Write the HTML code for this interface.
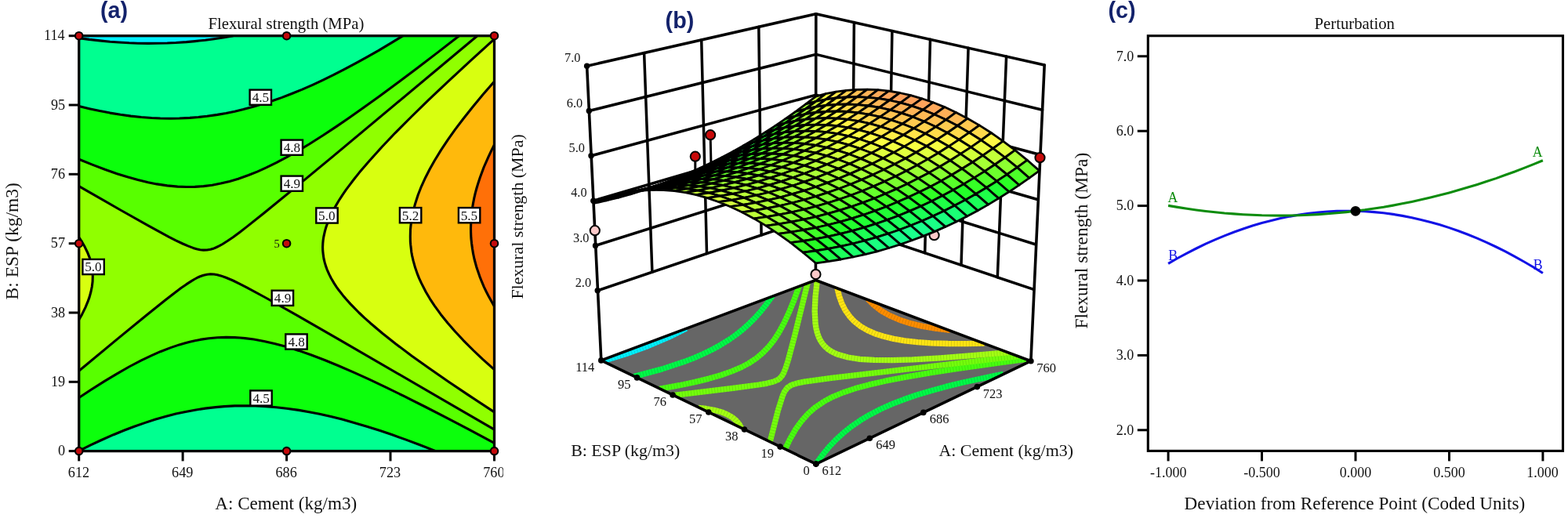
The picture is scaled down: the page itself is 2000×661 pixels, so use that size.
<!DOCTYPE html>
<html><head><meta charset="utf-8"><title>Flexural strength response surface</title>
<style>html,body{margin:0;padding:0;background:#fff}svg{display:block}text{white-space:pre}</style></head>
<body><svg width="2000" height="661" viewBox="0 0 2000 661">
<rect width="2000" height="661" fill="#fff"/>
<g id="plot-a">
<path d="M160.1,54.5 L178.0,55.2 L195.6,55.4 L213.3,55.0 L228.7,54.3 L246.4,52.9 L264.1,50.9 L281.7,48.4 L297.5,45.7 L100.7,45.7 L100.7,48.6 L116.2,50.7 L131.6,52.4 L144.8,53.5Z" fill="#00f0ff" stroke="#00f0ff" stroke-width="0.6"/>
<path d="M100.7,575.6 L102.9,575.6 L555.7,575.6 L535.6,567.7 L517.9,561.1 L484.8,549.6 L467.1,543.9 L451.7,539.4 L436.2,535.1 L423.0,531.8 L407.5,528.3 L394.3,525.7 L381.1,523.4 L365.6,521.2 L352.4,519.7 L339.1,518.6 L325.9,517.9 L312.6,517.7 L299.4,517.9 L286.1,518.6 L275.1,519.6 L261.8,521.1 L248.6,523.2 L235.4,525.7 L222.1,528.7 L208.9,532.1 L195.6,536.0 L182.4,540.3 L169.1,545.0 L155.9,550.1 L140.4,556.6 L125.0,563.5 L105.1,573.1 L100.7,575.3ZM180.0,149.5 L200.0,150.8 L219.9,151.2 L239.8,150.5 L257.4,149.1 L277.3,146.4 L295.0,143.2 L314.8,138.5 L334.7,132.8 L354.6,126.2 L374.4,118.6 L394.3,110.2 L416.4,100.0 L438.4,88.9 L462.7,75.9 L487.0,62.0 L514.0,45.7 L297.5,45.7 L272.9,49.7 L259.6,51.5 L246.4,52.9 L233.1,54.0 L219.9,54.7 L195.6,55.4 L173.5,55.1 L149.3,53.9 L125.0,51.7 L100.7,48.6 L100.7,135.6 L120.6,140.2 L140.4,144.1 L160.3,147.2Z" fill="#00ff90" stroke="#00ff90" stroke-width="0.6"/>
<path d="M100.7,573.4 L100.7,575.3 L116.2,567.7 L133.8,559.5 L151.5,551.9 L166.9,545.8 L189.0,538.1 L211.1,531.5 L224.3,528.1 L235.4,525.7 L246.4,523.6 L259.6,521.4 L270.7,520.0 L281.7,519.0 L295.0,518.1 L306.0,517.8 L319.2,517.8 L332.5,518.2 L345.7,519.1 L361.2,520.6 L374.4,522.4 L389.9,524.9 L405.3,527.9 L418.6,530.8 L434.0,534.6 L449.5,538.7 L464.9,543.3 L482.6,548.8 L500.3,554.8 L517.9,561.1 L535.6,567.7 L555.7,575.6 L630.5,575.6 L630.5,565.4 L593.0,545.4 L559.9,528.1 L529.0,512.3 L502.5,499.1 L476.0,486.4 L451.7,475.3 L429.6,465.8 L409.8,457.8 L389.9,450.4 L372.2,444.5 L356.8,440.1 L341.3,436.3 L325.9,433.4 L312.6,431.6 L299.4,430.6 L286.1,430.4 L275.1,430.9 L266.3,431.8 L257.4,433.1 L246.4,435.2 L237.6,437.4 L226.5,440.6 L215.5,444.4 L204.5,448.7 L193.4,453.6 L180.2,459.9 L169.1,465.6 L155.9,472.9 L144.8,479.4 L129.4,488.8 L100.7,507.5ZM222.3,237.8 L230.9,238.3 L239.8,238.5 L255.2,238.0 L264.1,237.1 L270.7,236.2 L279.5,234.6 L288.3,232.6 L303.8,228.2 L312.6,225.2 L321.4,221.8 L339.1,214.2 L359.0,204.3 L378.8,193.2 L400.9,179.9 L425.2,164.1 L451.7,146.0 L480.4,125.5 L511.3,102.6 L546.6,75.9 L585.6,45.7 L514.0,45.7 L480.4,65.9 L449.5,83.1 L420.8,97.9 L407.5,104.2 L392.1,111.2 L378.8,116.8 L365.6,122.1 L350.1,127.7 L336.9,132.1 L323.7,136.1 L310.4,139.6 L299.4,142.2 L286.1,144.9 L275.1,146.8 L264.1,148.3 L253.0,149.5 L242.0,150.4 L230.9,151.0 L219.9,151.2 L208.9,151.1 L197.8,150.7 L175.8,149.1 L164.7,147.8 L151.5,145.9 L127.2,141.6 L100.7,135.6 L100.7,203.3 L118.4,210.4 L136.0,217.1 L153.7,223.1 L166.9,227.1 L180.2,230.6 L195.6,234.1 L208.9,236.3Z" fill="#0cff0c" stroke="#0cff0c" stroke-width="0.6"/>
<path d="M629.0,564.6 L630.5,565.4 L630.5,548.2 L436.2,435.4 L378.8,402.4 L343.5,382.4 L314.8,366.8 L297.2,358.0 L286.1,353.4 L279.5,351.3 L275.1,350.4 L270.7,349.8 L266.3,349.9 L261.8,350.6 L257.4,351.9 L253.0,353.7 L248.6,356.0 L242.0,360.0 L235.4,364.4 L217.7,377.5 L191.2,398.6 L151.5,431.1 L100.7,473.2 L100.7,507.5 L120.6,494.5 L138.2,483.4 L153.7,474.2 L169.1,465.6 L184.6,457.7 L197.8,451.6 L211.1,446.1 L224.3,441.3 L237.6,437.4 L248.6,434.7 L261.8,432.4 L275.1,430.9 L288.3,430.4 L301.6,430.7 L314.8,431.8 L328.1,433.7 L339.1,435.8 L352.4,438.9 L365.6,442.5 L378.8,446.7 L392.1,451.2 L407.5,456.9 L425.2,464.0 L440.7,470.5 L476.0,486.4 L520.1,507.8 L568.7,532.6ZM249.4,317.3 L255.2,318.7 L261.8,319.1 L266.3,318.7 L268.5,318.2 L272.9,316.9 L279.5,313.9 L286.1,310.1 L295.0,304.2 L306.0,296.2 L319.2,285.9 L336.9,271.8 L387.7,230.2 L467.1,164.1 L608.8,45.7 L585.6,45.7 L533.4,86.0 L484.8,122.2 L464.9,136.6 L445.1,150.6 L429.6,161.1 L412.0,172.8 L394.3,184.0 L381.1,191.9 L365.6,200.7 L352.4,207.7 L339.1,214.2 L325.9,220.0 L312.6,225.2 L301.6,228.9 L290.5,232.0 L279.5,234.6 L268.5,236.5 L257.4,237.8 L246.4,238.4 L235.4,238.5 L224.3,238.0 L213.3,236.9 L200.0,234.9 L189.0,232.7 L175.8,229.5 L162.5,225.8 L149.3,221.7 L133.8,216.3 L118.4,210.4 L100.7,203.3 L100.7,237.6 L169.1,276.8 L208.9,298.8 L222.1,305.7 L233.1,311.0 L242.0,314.8Z" fill="#58ff00" stroke="#58ff00" stroke-width="0.6"/>
<path d="M628.3,546.9 L630.5,548.2 L630.5,525.9 L598.6,504.9 L565.9,482.9 L537.5,463.0 L513.4,445.3 L493.5,429.9 L474.8,414.4 L460.2,401.2 L447.0,387.9 L437.4,376.9 L430.6,368.1 L424.8,359.2 L420.0,350.4 L416.2,341.6 L413.6,332.7 L412.1,323.9 L411.6,315.1 L412.2,306.2 L412.9,301.8 L414.4,295.2 L415.6,290.8 L417.9,284.2 L422.7,273.1 L428.6,262.1 L436.8,248.8 L446.3,235.6 L456.6,222.3 L467.7,209.1 L479.5,195.8 L493.8,180.4 L508.8,164.9 L533.2,140.6 L560.7,114.1 L593.9,83.2 L630.5,49.8 L630.5,45.7 L608.8,45.7 L425.2,199.1 L374.4,241.1 L336.9,271.8 L314.8,289.4 L297.2,302.7 L290.5,307.3 L283.9,311.5 L279.5,313.9 L272.9,316.9 L268.5,318.2 L264.1,319.0 L259.6,319.1 L255.2,318.7 L250.8,317.7 L246.4,316.4 L239.8,313.9 L233.1,311.0 L215.5,302.3 L189.0,287.9 L153.7,268.0 L100.7,237.6 L100.7,302.8 L104.4,308.4 L108.2,315.1 L111.4,321.7 L114.1,328.3 L115.5,332.7 L117.0,339.4 L118.0,346.0 L118.3,352.6 L118.1,359.2 L117.3,365.8 L115.9,372.5 L114.1,379.1 L111.7,385.7 L108.9,392.3 L104.6,401.2 L100.7,408.1 L100.7,473.2 L151.5,431.1 L186.8,402.2 L211.1,382.7 L230.9,367.6 L244.2,358.6 L248.6,356.0 L255.2,352.8 L259.6,351.2 L264.1,350.2 L268.5,349.8 L272.9,350.0 L277.3,350.8 L281.7,351.9 L288.3,354.3 L297.2,358.0 L314.8,366.8 L339.1,380.0 L378.8,402.4 L431.8,432.8Z" fill="#90ff00" stroke="#90ff00" stroke-width="0.6"/>
<path d="M628.9,524.8 L630.5,525.9 L630.5,471.7 L615.9,458.6 L604.2,447.5 L591.0,434.3 L580.7,423.3 L571.1,412.2 L562.2,401.2 L554.2,390.1 L548.4,381.3 L543.2,372.5 L537.5,361.4 L532.7,350.4 L529.6,341.6 L527.1,332.7 L524.8,321.7 L523.8,312.9 L523.3,301.8 L523.5,293.0 L524.7,281.9 L526.7,270.9 L529.6,259.9 L533.2,248.8 L537.5,237.8 L542.6,226.7 L548.2,215.7 L554.4,204.7 L562.6,191.4 L571.4,178.2 L580.8,164.9 L590.8,151.7 L603.1,136.2 L615.9,120.8 L630.5,104.0 L630.5,49.8 L601.1,76.6 L572.5,103.1 L546.8,127.4 L524.2,149.5 L504.4,169.3 L487.6,187.0 L471.6,204.7 L458.4,220.1 L446.3,235.6 L436.8,248.8 L428.6,262.1 L422.7,273.1 L417.9,284.2 L415.6,290.8 L414.4,295.2 L412.9,301.8 L412.2,306.2 L411.6,315.1 L411.7,319.5 L412.4,326.1 L414.2,334.9 L417.1,343.8 L420.0,350.4 L422.2,354.8 L426.1,361.4 L429.0,365.8 L437.4,376.9 L447.0,387.9 L457.9,399.0 L469.8,410.0 L485.3,423.3 L501.9,436.5 L522.3,452.0 L543.7,467.4 L569.1,485.1 L598.6,504.9ZM100.7,407.8 L100.7,408.1 L104.6,401.2 L107.9,394.6 L110.8,387.9 L114.1,379.1 L115.9,372.5 L117.3,365.8 L118.1,359.2 L118.3,352.6 L118.0,346.0 L117.0,339.4 L115.5,332.7 L114.1,328.3 L111.4,321.7 L108.2,315.1 L104.4,308.4 L100.7,302.8Z" fill="#d8ff10" stroke="#d8ff10" stroke-width="0.6"/>
<path d="M628.1,469.6 L630.5,471.7 L630.5,391.0 L623.8,379.1 L617.2,365.8 L611.8,352.6 L608.0,341.6 L605.0,330.5 L602.5,317.3 L600.9,304.0 L600.5,290.8 L600.9,279.7 L602.3,266.5 L604.7,253.2 L608.0,240.0 L612.2,226.7 L617.1,213.5 L622.9,200.3 L630.5,184.7 L630.5,104.0 L617.8,118.6 L604.9,134.0 L592.5,149.5 L582.5,162.7 L572.9,176.0 L564.0,189.2 L555.7,202.5 L549.4,213.5 L543.6,224.5 L538.5,235.6 L534.0,246.6 L530.2,257.7 L527.2,268.7 L525.0,279.7 L523.7,290.8 L523.3,299.6 L523.6,310.7 L524.5,319.5 L526.1,328.3 L528.9,339.4 L531.9,348.2 L536.4,359.2 L540.8,368.1 L547.1,379.1 L554.2,390.1 L562.2,401.2 L571.1,412.2 L580.7,423.3 L591.0,434.3 L601.9,445.3 L613.5,456.4Z" fill="#ffb90c" stroke="#ffb90c" stroke-width="0.6"/>
<path d="M630.0,390.1 L630.5,391.0 L630.5,184.7 L622.9,200.3 L617.1,213.5 L612.2,226.7 L608.0,240.0 L604.7,253.2 L602.3,266.5 L600.9,279.7 L600.5,290.8 L600.9,304.0 L602.1,315.1 L604.5,328.3 L607.4,339.4 L611.8,352.6 L616.3,363.6 L622.6,376.9Z" fill="#ff7008" stroke="#ff7008" stroke-width="0.6"/>
<path d="M297.5,45.7 L286.1,47.7 L272.9,49.7 L261.8,51.2 L248.6,52.6 L237.6,53.6 L224.3,54.5 L213.3,55.0 L200.0,55.3 L189.0,55.4 L175.8,55.2 L164.7,54.8 L151.5,54.0 L140.4,53.2 L127.2,51.9 L113.9,50.4 L100.7,48.6" fill="none" stroke="#000" stroke-width="3.1" stroke-linejoin="round"/>
<path d="M100.7,575.3 L116.2,567.7 L129.4,561.5 L144.8,554.7 L158.1,549.3 L171.3,544.2 L184.6,539.6 L197.8,535.3 L211.1,531.5 L224.3,528.1 L235.4,525.7 L248.6,523.2 L261.8,521.1 L275.1,519.6 L286.1,518.6 L299.4,517.9 L312.6,517.7 L325.9,517.9 L339.1,518.6 L352.4,519.7 L365.6,521.2 L381.1,523.4 L394.3,525.7 L407.5,528.3 L423.0,531.8 L436.2,535.1 L451.7,539.4 L467.1,543.9 L484.8,549.6 L500.3,554.8 L517.9,561.1 L535.6,567.7 L555.7,575.6" fill="none" stroke="#000" stroke-width="3.1" stroke-linejoin="round"/>
<path d="M514.0,45.7 L498.0,55.4 L482.6,64.6 L467.1,73.4 L453.9,80.7 L438.4,88.9 L425.2,95.7 L412.0,102.1 L398.7,108.3 L385.5,114.1 L372.2,119.5 L359.0,124.6 L347.9,128.5 L334.7,132.8 L323.7,136.1 L310.4,139.6 L299.4,142.2 L288.3,144.5 L277.3,146.4 L264.1,148.3 L253.0,149.5 L242.0,150.4 L228.7,151.0 L217.7,151.2 L204.5,151.0 L193.4,150.5 L180.2,149.5 L166.9,148.1 L153.7,146.3 L140.4,144.1 L127.2,141.6 L113.9,138.7 L100.7,135.6" fill="none" stroke="#000" stroke-width="3.1" stroke-linejoin="round"/>
<path d="M100.7,507.5 L116.2,497.3 L133.8,486.1 L149.3,476.8 L164.7,468.0 L180.2,459.9 L193.4,453.6 L204.5,448.7 L217.7,443.6 L228.7,439.9 L235.4,438.0 L242.0,436.2 L248.6,434.7 L255.2,433.4 L266.3,431.8 L277.3,430.8 L288.3,430.4 L299.4,430.6 L306.0,431.0 L312.6,431.6 L323.7,433.0 L336.9,435.4 L350.1,438.4 L365.6,442.5 L381.1,447.4 L396.5,452.8 L414.2,459.5 L431.8,466.7 L451.7,475.3 L471.6,484.4 L493.6,494.8 L515.7,505.7 L542.2,519.0 L568.7,532.6 L597.4,547.7 L630.5,565.4" fill="none" stroke="#000" stroke-width="3.1" stroke-linejoin="round"/>
<path d="M585.6,45.7 L557.7,67.4 L533.4,86.0 L509.1,104.3 L484.8,122.2 L464.9,136.6 L445.1,150.6 L429.6,161.1 L412.0,172.8 L394.3,184.0 L381.1,191.9 L365.6,200.7 L352.4,207.7 L339.1,214.2 L328.1,219.1 L317.0,223.5 L303.8,228.2 L292.8,231.4 L281.7,234.1 L270.7,236.2 L259.6,237.6 L248.6,238.4 L237.6,238.5 L226.5,238.1 L213.3,236.9 L200.0,234.9 L189.0,232.7 L175.8,229.5 L162.5,225.8 L149.3,221.7 L133.8,216.3 L118.4,210.4 L100.7,203.3" fill="none" stroke="#000" stroke-width="3.1" stroke-linejoin="round"/>
<path d="M100.7,473.2 L151.5,431.1 L186.8,402.2 L211.1,382.7 L222.1,374.2 L230.9,367.6 L237.6,362.9 L244.2,358.6 L248.6,356.0 L253.0,353.7 L255.2,352.8 L259.6,351.2 L264.1,350.2 L268.5,349.8 L272.9,350.0 L277.3,350.8 L281.7,351.9 L288.3,354.3 L297.2,358.0 L306.0,362.3 L314.8,366.8 L339.1,380.0 L378.8,402.4 L431.8,432.8 L630.5,548.2" fill="none" stroke="#000" stroke-width="3.1" stroke-linejoin="round"/>
<path d="M608.8,45.7 L425.2,199.1 L374.4,241.1 L336.9,271.8 L314.8,289.4 L306.0,296.2 L297.2,302.7 L290.5,307.3 L283.9,311.5 L279.5,313.9 L275.1,316.0 L272.9,316.9 L268.5,318.2 L264.1,319.0 L259.6,319.1 L255.2,318.7 L250.8,317.7 L246.4,316.4 L239.8,313.9 L233.1,311.0 L224.3,306.8 L215.5,302.3 L189.0,287.9 L153.7,268.0 L100.7,237.6" fill="none" stroke="#000" stroke-width="3.1" stroke-linejoin="round"/>
<path d="M100.7,408.1 L104.6,401.2 L108.9,392.3 L111.7,385.7 L114.1,379.1 L115.9,372.5 L117.3,365.8 L118.1,359.2 L118.3,352.6 L118.0,346.0 L117.0,339.4 L115.5,332.7 L114.1,328.3 L111.4,321.7 L108.2,315.1 L104.4,308.4 L100.7,302.8" fill="none" stroke="#000" stroke-width="3.1" stroke-linejoin="round"/>
<path d="M630.5,49.8 L601.1,76.6 L572.5,103.1 L546.8,127.4 L524.2,149.5 L504.4,169.3 L487.6,187.0 L471.6,204.7 L458.4,220.1 L451.3,229.0 L446.3,235.6 L441.4,242.2 L436.8,248.8 L432.5,255.5 L428.6,262.1 L426.1,266.5 L422.7,273.1 L419.7,279.7 L417.9,284.2 L415.6,290.8 L414.4,295.2 L412.9,301.8 L412.2,306.2 L411.8,310.7 L411.6,315.1 L411.7,319.5 L412.4,326.1 L413.1,330.5 L414.2,334.9 L415.5,339.4 L417.1,343.8 L420.0,350.4 L422.2,354.8 L426.1,361.4 L429.0,365.8 L432.2,370.3 L437.4,376.9 L441.1,381.3 L447.0,387.9 L457.9,399.0 L464.9,405.6 L472.3,412.2 L488.0,425.5 L504.7,438.7 L525.3,454.2 L546.8,469.6 L572.3,487.3 L598.6,504.9 L630.5,525.9" fill="none" stroke="#000" stroke-width="3.1" stroke-linejoin="round"/>
<path d="M630.5,104.0 L615.9,120.8 L603.1,136.2 L590.8,151.7 L580.8,164.9 L571.4,178.2 L562.6,191.4 L554.4,204.7 L548.2,215.7 L542.6,226.7 L537.5,237.8 L533.2,248.8 L529.6,259.9 L526.7,270.9 L525.4,277.5 L524.7,281.9 L523.9,288.6 L523.5,293.0 L523.3,301.8 L523.4,308.4 L523.8,312.9 L524.8,321.7 L525.6,326.1 L527.1,332.7 L529.6,341.6 L532.7,350.4 L534.5,354.8 L537.5,361.4 L543.2,372.5 L548.4,381.3 L554.2,390.1 L562.2,401.2 L571.1,412.2 L580.7,423.3 L591.0,434.3 L604.2,447.5 L615.9,458.6 L630.5,471.7" fill="none" stroke="#000" stroke-width="3.1" stroke-linejoin="round"/>
<path d="M630.5,184.7 L627.1,191.4 L622.9,200.3 L617.1,213.5 L612.2,226.7 L610.0,233.4 L608.0,240.0 L606.2,246.6 L604.7,253.2 L603.4,259.9 L602.3,266.5 L601.5,273.1 L600.9,279.7 L600.5,290.8 L600.6,297.4 L600.9,304.0 L601.6,310.7 L602.5,317.3 L603.6,323.9 L605.0,330.5 L608.0,341.6 L611.8,352.6 L614.4,359.2 L617.2,365.8 L620.4,372.5 L623.8,379.1 L630.5,391.0" fill="none" stroke="#000" stroke-width="3.1" stroke-linejoin="round"/>
<rect x="100.7" y="45.7" width="529.8" height="529.9" fill="none" stroke="#000" stroke-width="3.3"/>
<line x1="100.7" y1="575.6" x2="100.7" y2="588.4" stroke="#000" stroke-width="3"/>
<text x="86.8" y="608.6" font-size="18.2" fill="#111" font-family="Liberation Serif, serif" >612</text>
<line x1="233.1" y1="575.6" x2="233.1" y2="588.4" stroke="#000" stroke-width="3"/>
<text x="219.1" y="608.6" font-size="18.2" fill="#111" font-family="Liberation Serif, serif" >649</text>
<line x1="365.6" y1="575.6" x2="365.6" y2="588.4" stroke="#000" stroke-width="3"/>
<text x="351.5" y="608.6" font-size="18.2" fill="#111" font-family="Liberation Serif, serif" >686</text>
<line x1="498.0" y1="575.6" x2="498.0" y2="588.4" stroke="#000" stroke-width="3"/>
<text x="483.8" y="608.6" font-size="18.2" fill="#111" font-family="Liberation Serif, serif" >723</text>
<line x1="630.5" y1="575.6" x2="630.5" y2="588.4" stroke="#000" stroke-width="3"/>
<text x="616.2" y="608.6" font-size="18.2" fill="#111" font-family="Liberation Serif, serif" >760</text>
<line x1="87.7" y1="575.6" x2="100.7" y2="575.6" stroke="#000" stroke-width="3"/>
<text x="74.1" y="581.3" font-size="18.2" fill="#111" font-family="Liberation Serif, serif" >0</text>
<line x1="87.7" y1="487.3" x2="100.7" y2="487.3" stroke="#000" stroke-width="3"/>
<text x="65.0" y="493.0" font-size="18.2" fill="#111" font-family="Liberation Serif, serif" >19</text>
<line x1="87.7" y1="399.0" x2="100.7" y2="399.0" stroke="#000" stroke-width="3"/>
<text x="65.0" y="404.7" font-size="18.2" fill="#111" font-family="Liberation Serif, serif" >38</text>
<line x1="87.7" y1="310.7" x2="100.7" y2="310.7" stroke="#000" stroke-width="3"/>
<text x="64.8" y="316.4" font-size="18.2" fill="#111" font-family="Liberation Serif, serif" >57</text>
<line x1="87.7" y1="222.3" x2="100.7" y2="222.3" stroke="#000" stroke-width="3"/>
<text x="64.8" y="228.0" font-size="18.2" fill="#111" font-family="Liberation Serif, serif" >76</text>
<line x1="87.7" y1="134.0" x2="100.7" y2="134.0" stroke="#000" stroke-width="3"/>
<text x="65.0" y="139.7" font-size="18.2" fill="#111" font-family="Liberation Serif, serif" >95</text>
<line x1="87.7" y1="45.7" x2="100.7" y2="45.7" stroke="#000" stroke-width="3"/>
<text x="56.1" y="51.4" font-size="18.2" fill="#111" font-family="Liberation Serif, serif" >114</text>
<circle cx="100.7" cy="575.6" r="4.75" fill="#c4090b" stroke="#000" stroke-width="2.1"/>
<circle cx="100.7" cy="310.7" r="4.75" fill="#c4090b" stroke="#000" stroke-width="2.1"/>
<circle cx="100.7" cy="45.7" r="4.75" fill="#c4090b" stroke="#000" stroke-width="2.1"/>
<circle cx="365.6" cy="575.6" r="4.75" fill="#c4090b" stroke="#000" stroke-width="2.1"/>
<circle cx="365.6" cy="310.7" r="4.75" fill="#c4090b" stroke="#000" stroke-width="2.1"/>
<circle cx="365.6" cy="45.7" r="4.75" fill="#c4090b" stroke="#000" stroke-width="2.1"/>
<circle cx="630.5" cy="575.6" r="4.75" fill="#c4090b" stroke="#000" stroke-width="2.1"/>
<circle cx="630.5" cy="310.7" r="4.75" fill="#c4090b" stroke="#000" stroke-width="2.1"/>
<circle cx="630.5" cy="45.7" r="4.75" fill="#c4090b" stroke="#000" stroke-width="2.1"/>
<text x="349.6" y="315.6" font-size="14.5" fill="#111" font-family="Liberation Serif, serif" >5</text>
<rect x="318.6" y="114.6" width="27.4" height="19.2" fill="#fff" stroke="#000" stroke-width="2.4"/>
<text x="321.7" y="130.0" font-size="17.2" fill="#111" font-family="Liberation Serif, serif" >4.5</text>
<rect x="358.6" y="178.6" width="27.4" height="19.2" fill="#fff" stroke="#000" stroke-width="2.4"/>
<text x="361.7" y="194.0" font-size="17.2" fill="#111" font-family="Liberation Serif, serif" >4.8</text>
<rect x="358.6" y="224.6" width="27.4" height="19.2" fill="#fff" stroke="#000" stroke-width="2.4"/>
<text x="361.7" y="240.0" font-size="17.2" fill="#111" font-family="Liberation Serif, serif" >4.9</text>
<rect x="403.3" y="265.4" width="27.4" height="19.2" fill="#fff" stroke="#000" stroke-width="2.4"/>
<text x="406.1" y="280.8" font-size="17.2" fill="#111" font-family="Liberation Serif, serif" >5.0</text>
<rect x="509.9" y="265.1" width="27.4" height="19.2" fill="#fff" stroke="#000" stroke-width="2.4"/>
<text x="512.8" y="280.5" font-size="17.2" fill="#111" font-family="Liberation Serif, serif" >5.2</text>
<rect x="584.9" y="265.1" width="27.4" height="19.2" fill="#fff" stroke="#000" stroke-width="2.4"/>
<text x="587.7" y="280.5" font-size="17.2" fill="#111" font-family="Liberation Serif, serif" >5.5</text>
<rect x="105.4" y="330.9" width="27.4" height="19.2" fill="#fff" stroke="#000" stroke-width="2.4"/>
<text x="108.2" y="346.3" font-size="17.2" fill="#111" font-family="Liberation Serif, serif" >5.0</text>
<rect x="346.7" y="370.7" width="27.4" height="19.2" fill="#fff" stroke="#000" stroke-width="2.4"/>
<text x="349.8" y="386.1" font-size="17.2" fill="#111" font-family="Liberation Serif, serif" >4.9</text>
<rect x="364.3" y="426.4" width="27.4" height="19.2" fill="#fff" stroke="#000" stroke-width="2.4"/>
<text x="367.4" y="441.8" font-size="17.2" fill="#111" font-family="Liberation Serif, serif" >4.8</text>
<rect x="319.3" y="498.4" width="27.4" height="19.2" fill="#fff" stroke="#000" stroke-width="2.4"/>
<text x="322.4" y="513.8" font-size="17.2" fill="#111" font-family="Liberation Serif, serif" >4.5</text>
<rect x="641.8" y="592" width="12" height="22" fill="#fff"/>
<text x="265.5" y="37.4" font-size="20.7" fill="#111" font-family="Liberation Serif, serif" >Flexural strength (MPa)</text>
<text x="274.3" y="649.6" font-size="23.1" fill="#111" font-family="Liberation Serif, serif" >A: Cement (kg/m3)</text>
<text x="23.3" y="382.4" font-size="23.5" fill="#111" font-family="Liberation Serif, serif" transform="rotate(-90 23.3 382.4)" >B: ESP (kg/m3)</text>
<text x="666.9" y="381.6" font-size="21.9" fill="#111" font-family="Liberation Serif, serif" transform="rotate(-90 666.9 381.6)" >Flexural strength (MPa)</text>
<text x="128.0" y="23.0" font-size="28.7" fill="#13226b" font-family="Liberation Sans, sans-serif" font-weight="bold" >(a)</text>
</g>
<g id="plot-b">
<path d="M748.6,84.2 L1040.8,17.7 L1332.2,83.0 L1314.9,460.7 L1040.4,357.5 L766.8,459.9Z" fill="#fff"/>
<line x1="748.6" y1="84.2" x2="1040.8" y2="17.7" stroke="#000" stroke-width="3.5" stroke-linecap="round" />
<line x1="1040.8" y1="17.7" x2="1332.2" y2="83.0" stroke="#000" stroke-width="3.5" stroke-linecap="round" />
<line x1="751.3" y1="141.5" x2="1040.8" y2="69.4" stroke="#000" stroke-width="3.5" stroke-linecap="round" />
<line x1="1040.8" y1="69.4" x2="1329.5" y2="140.3" stroke="#000" stroke-width="3.5" stroke-linecap="round" />
<line x1="754.0" y1="198.8" x2="1040.8" y2="121.1" stroke="#000" stroke-width="3.5" stroke-linecap="round" />
<line x1="1040.8" y1="121.1" x2="1326.8" y2="197.5" stroke="#000" stroke-width="3.5" stroke-linecap="round" />
<line x1="756.8" y1="256.2" x2="1040.8" y2="172.9" stroke="#000" stroke-width="3.5" stroke-linecap="round" />
<line x1="1040.8" y1="172.9" x2="1324.0" y2="254.8" stroke="#000" stroke-width="3.5" stroke-linecap="round" />
<line x1="759.5" y1="313.5" x2="1040.8" y2="224.6" stroke="#000" stroke-width="3.5" stroke-linecap="round" />
<line x1="1040.8" y1="224.6" x2="1321.3" y2="312.0" stroke="#000" stroke-width="3.5" stroke-linecap="round" />
<line x1="762.2" y1="370.8" x2="1040.8" y2="276.3" stroke="#000" stroke-width="3.5" stroke-linecap="round" />
<line x1="1040.8" y1="276.3" x2="1318.6" y2="369.3" stroke="#000" stroke-width="3.5" stroke-linecap="round" />
<line x1="821.6" y1="67.6" x2="831.9" y2="347.2" stroke="#000" stroke-width="3.5" stroke-linecap="round" />
<line x1="894.7" y1="51.0" x2="901.5" y2="323.6" stroke="#000" stroke-width="3.5" stroke-linecap="round" />
<line x1="967.8" y1="34.3" x2="971.1" y2="299.9" stroke="#000" stroke-width="3.5" stroke-linecap="round" />
<line x1="1089.4" y1="28.6" x2="1087.1" y2="291.8" stroke="#000" stroke-width="3.5" stroke-linecap="round" />
<line x1="1137.9" y1="39.5" x2="1133.4" y2="307.3" stroke="#000" stroke-width="3.5" stroke-linecap="round" />
<line x1="1186.5" y1="50.3" x2="1179.7" y2="322.8" stroke="#000" stroke-width="3.5" stroke-linecap="round" />
<line x1="1235.1" y1="61.2" x2="1226.0" y2="338.3" stroke="#000" stroke-width="3.5" stroke-linecap="round" />
<line x1="1283.6" y1="72.1" x2="1272.3" y2="353.8" stroke="#000" stroke-width="3.5" stroke-linecap="round" />
<line x1="748.6" y1="84.2" x2="766.8" y2="459.9" stroke="#000" stroke-width="3.6" stroke-linecap="round" />
<line x1="1040.8" y1="17.7" x2="1040.4" y2="357.5" stroke="#000" stroke-width="3.6" stroke-linecap="round" />
<line x1="1332.2" y1="83.0" x2="1314.9" y2="460.7" stroke="#000" stroke-width="3.6" stroke-linecap="round" />
<path d="M766.8,459.9 L1040.8,592.1 L1314.9,460.7 L1040.4,357.5Z" fill="#666666"/>
<clipPath id="floorclip"><path d="M766.8,459.9 L1040.8,592.1 L1314.9,460.7 L1040.4,357.5Z"/></clipPath>
<g clip-path="url(#floorclip)">
<path d="M875.6,419.0 L853.1,430.2 L827.2,441.2 L798.7,451.5 L767.9,461.1" fill="none" stroke="#00f0ff" stroke-width="7.3" stroke-linejoin="round"/>
<path d="M875.6,419.0 L853.1,430.2 L827.2,441.2 L798.7,451.5 L767.9,461.1" fill="none" stroke="#1c4a08" stroke-opacity="0.2" stroke-width="7.3" stroke-dasharray="0.8 3"/>
<path d="M1040.3,592.6 L1048.3,581.6 L1056.8,571.1 L1066.1,561.3 L1076.1,552.1 L1085.6,544.5 L1097.3,536.4 L1109.9,528.9 L1123.3,522.0 L1137.6,515.6 L1152.7,509.8 L1168.6,504.3 L1187.2,498.7 L1206.4,493.4 L1228.5,488.0 L1279.7,477.2" fill="none" stroke="#00f848" stroke-width="7.3" stroke-linejoin="round"/>
<path d="M1040.3,592.6 L1048.3,581.6 L1056.8,571.1 L1066.1,561.3 L1076.1,552.1 L1085.6,544.5 L1097.3,536.4 L1109.9,528.9 L1123.3,522.0 L1137.6,515.6 L1152.7,509.8 L1168.6,504.3 L1187.2,498.7 L1206.4,493.4 L1228.5,488.0 L1279.7,477.2" fill="none" stroke="#1c4a08" stroke-opacity="0.2" stroke-width="7.3" stroke-dasharray="0.8 3"/>
<path d="M985.4,377.3 L977.8,388.0 L970.8,396.8 L963.0,405.6 L955.4,413.2 L948.1,419.8 L938.9,427.1 L930.1,433.4 L919.0,440.2 L908.5,446.0 L897.2,451.5 L885.0,456.8 L872.0,461.8 L843.8,471.1 L808.3,480.6" fill="none" stroke="#00f848" stroke-width="7.3" stroke-linejoin="round"/>
<path d="M985.4,377.3 L977.8,388.0 L970.8,396.8 L963.0,405.6 L955.4,413.2 L948.1,419.8 L938.9,427.1 L930.1,433.4 L919.0,440.2 L908.5,446.0 L897.2,451.5 L885.0,456.8 L872.0,461.8 L843.8,471.1 L808.3,480.6" fill="none" stroke="#1c4a08" stroke-opacity="0.2" stroke-width="7.3" stroke-dasharray="0.8 3"/>
<path d="M1001.2,573.7 L1007.6,560.4 L1014.8,547.9 L1022.2,537.5 L1030.7,527.9 L1039.3,520.2 L1050.8,512.4 L1062.3,506.3 L1075.1,501.0 L1091.2,495.6 L1108.5,490.9 L1129.1,486.2 L1155.3,481.1 L1187.3,475.6 L1219.9,470.6 L1308.5,458.3" fill="none" stroke="#48ff10" stroke-width="7.3" stroke-linejoin="round"/>
<path d="M1001.2,573.7 L1007.6,560.4 L1014.8,547.9 L1022.2,537.5 L1030.7,527.9 L1039.3,520.2 L1050.8,512.4 L1062.3,506.3 L1075.1,501.0 L1091.2,495.6 L1108.5,490.9 L1129.1,486.2 L1155.3,481.1 L1187.3,475.6 L1219.9,470.6 L1308.5,458.3" fill="none" stroke="#1c4a08" stroke-opacity="0.2" stroke-width="7.3" stroke-dasharray="0.8 3"/>
<path d="M1019.5,364.4 L1012.8,383.0 L1006.5,398.3 L1000.4,411.6 L993.8,423.8 L987.4,433.7 L980.7,442.2 L972.8,450.4 L964.6,457.2 L955.0,463.6 L945.6,468.6 L933.2,473.9 L919.4,478.7 L904.4,483.1 L886.0,487.6 L866.5,491.7 L841.0,496.4" fill="none" stroke="#48ff10" stroke-width="7.3" stroke-linejoin="round"/>
<path d="M1019.5,364.4 L1012.8,383.0 L1006.5,398.3 L1000.4,411.6 L993.8,423.8 L987.4,433.7 L980.7,442.2 L972.8,450.4 L964.6,457.2 L955.0,463.6 L945.6,468.6 L933.2,473.9 L919.4,478.7 L904.4,483.1 L886.0,487.6 L866.5,491.7 L841.0,496.4" fill="none" stroke="#1c4a08" stroke-opacity="0.2" stroke-width="7.3" stroke-dasharray="0.8 3"/>
<path d="M982.0,564.4 L992.4,523.7 L998.3,504.9 L1000.7,499.6 L1004.3,494.8 L1008.4,491.9 L1012.0,490.4 L1018.6,488.6 L1025.9,487.2 L1060.4,482.3 L1298.6,454.5" fill="none" stroke="#74ff0c" stroke-width="7.3" stroke-linejoin="round"/>
<path d="M982.0,564.4 L992.4,523.7 L998.3,504.9 L1000.7,499.6 L1004.3,494.8 L1008.4,491.9 L1012.0,490.4 L1018.6,488.6 L1025.9,487.2 L1060.4,482.3 L1298.6,454.5" fill="none" stroke="#1c4a08" stroke-opacity="0.2" stroke-width="7.3" stroke-dasharray="0.8 3"/>
<path d="M1030.4,360.2 L1013.4,429.2 L1005.2,460.0 L1001.8,470.5 L999.7,475.7 L997.6,479.4 L994.8,482.7 L992.1,484.7 L986.8,487.0 L977.7,489.3 L967.5,491.0 L934.7,495.4 L857.9,504.6" fill="none" stroke="#74ff0c" stroke-width="7.3" stroke-linejoin="round"/>
<path d="M1030.4,360.2 L1013.4,429.2 L1005.2,460.0 L1001.8,470.5 L999.7,475.7 L997.6,479.4 L994.8,482.7 L992.1,484.7 L986.8,487.0 L977.7,489.3 L967.5,491.0 L934.7,495.4 L857.9,504.6" fill="none" stroke="#1c4a08" stroke-opacity="0.2" stroke-width="7.3" stroke-dasharray="0.8 3"/>
<path d="M946.2,547.2 L942.9,541.4 L938.9,536.6 L933.8,532.4 L927.5,528.8 L920.0,525.7 L911.0,523.3 L900.6,521.5 L890.8,520.4" fill="none" stroke="#a4ff14" stroke-width="7.3" stroke-linejoin="round"/>
<path d="M946.2,547.2 L942.9,541.4 L938.9,536.6 L933.8,532.4 L927.5,528.8 L920.0,525.7 L911.0,523.3 L900.6,521.5 L890.8,520.4" fill="none" stroke="#1c4a08" stroke-opacity="0.2" stroke-width="7.3" stroke-dasharray="0.8 3"/>
<path d="M1042.4,357.1 L1040.0,379.2 L1039.2,397.0 L1040.0,412.3 L1040.9,418.5 L1042.4,424.6 L1044.0,429.4 L1046.2,434.0 L1049.0,438.4 L1051.6,441.5 L1055.8,445.4 L1059.7,448.0 L1064.1,450.4 L1069.3,452.6 L1081.7,456.0 L1097.0,458.3 L1114.9,459.4 L1138.4,459.6 L1164.2,458.8 L1199.3,456.8 L1240.1,453.7 L1286.0,449.7" fill="none" stroke="#a4ff14" stroke-width="7.3" stroke-linejoin="round"/>
<path d="M1042.4,357.1 L1040.0,379.2 L1039.2,397.0 L1040.0,412.3 L1040.9,418.5 L1042.4,424.6 L1044.0,429.4 L1046.2,434.0 L1049.0,438.4 L1051.6,441.5 L1055.8,445.4 L1059.7,448.0 L1064.1,450.4 L1069.3,452.6 L1081.7,456.0 L1097.0,458.3 L1114.9,459.4 L1138.4,459.6 L1164.2,458.8 L1199.3,456.8 L1240.1,453.7 L1286.0,449.7" fill="none" stroke="#1c4a08" stroke-opacity="0.2" stroke-width="7.3" stroke-dasharray="0.8 3"/>
<path d="M1067.7,366.7 L1070.2,377.2 L1073.7,387.1 L1078.0,395.6 L1083.7,403.7 L1090.0,410.4 L1098.0,416.6 L1106.2,421.4 L1115.8,425.7 L1127.0,429.3 L1139.8,432.4 L1154.2,434.8 L1170.2,436.6 L1187.5,437.8 L1209.3,438.5 L1232.6,438.6 L1255.7,438.2" fill="none" stroke="#ffe414" stroke-width="7.3" stroke-linejoin="round"/>
<path d="M1067.7,366.7 L1070.2,377.2 L1073.7,387.1 L1078.0,395.6 L1083.7,403.7 L1090.0,410.4 L1098.0,416.6 L1106.2,421.4 L1115.8,425.7 L1127.0,429.3 L1139.8,432.4 L1154.2,434.8 L1170.2,436.6 L1187.5,437.8 L1209.3,438.5 L1232.6,438.6 L1255.7,438.2" fill="none" stroke="#1c4a08" stroke-opacity="0.2" stroke-width="7.3" stroke-dasharray="0.8 3"/>
<path d="M1106.6,381.5 L1114.9,389.7 L1123.9,396.5 L1134.6,402.7 L1147.4,408.2 L1162.2,412.9 L1176.9,416.4 L1193.2,419.2 L1211.9,421.5" fill="none" stroke="#ff8c00" stroke-width="7.3" stroke-linejoin="round"/>
<path d="M1106.6,381.5 L1114.9,389.7 L1123.9,396.5 L1134.6,402.7 L1147.4,408.2 L1162.2,412.9 L1176.9,416.4 L1193.2,419.2 L1211.9,421.5" fill="none" stroke="#1c4a08" stroke-opacity="0.2" stroke-width="7.3" stroke-dasharray="0.8 3"/>
</g>
<path d="M766.8,459.9 L1040.8,592.1 L1314.9,460.7 L1040.4,357.5Z" fill="none" stroke="#000" stroke-width="3.6" stroke-linejoin="round"/>
<line x1="906.1" y1="172.2" x2="906.9" y2="207.8" stroke="#000" stroke-width="3" stroke-linecap="round" />
<circle cx="906.1" cy="172.2" r="6.1" fill="#c80a0a" stroke="#000" stroke-width="2"/>
<line x1="1191.6" y1="300.2" x2="1191.8" y2="295.6" stroke="#000" stroke-width="3" stroke-linecap="round" />
<circle cx="1191.6" cy="300.2" r="6.1" fill="#fcc8c8" stroke="#000" stroke-width="2"/>
<line x1="1040.5" y1="350.1" x2="1040.5" y2="335.8" stroke="#000" stroke-width="3" stroke-linecap="round" />
<circle cx="1040.5" cy="350.1" r="6.1" fill="#fcc8c8" stroke="#000" stroke-width="2"/>
<g stroke="#000" stroke-width="2.8" stroke-linejoin="round">
<path d="M1040.5,129.5 L1053.3,119.7 L1040.5,123.1 L1027.7,132.9Z" fill="#ceff3b"/>
<path d="M1027.6,139.0 L1040.5,129.5 L1027.7,132.9 L1014.8,142.5Z" fill="#a0ff34"/>
<path d="M1053.4,126.9 L1066.3,117.1 L1053.3,119.7 L1040.5,129.5Z" fill="#f7ff42"/>
<path d="M1014.5,148.2 L1027.6,139.0 L1014.8,142.5 L1001.8,151.7Z" fill="#72ff2e"/>
<path d="M1066.5,125.0 L1079.4,115.3 L1066.3,117.1 L1053.4,126.9Z" fill="#ffe548"/>
<path d="M1040.5,136.3 L1053.4,126.9 L1040.5,129.5 L1027.6,139.0Z" fill="#d2ff3b"/>
<path d="M1001.3,157.1 L1014.5,148.2 L1001.8,151.7 L988.7,160.7Z" fill="#45ff28"/>
<path d="M1079.8,124.0 L1092.7,114.3 L1079.4,115.3 L1066.5,125.0Z" fill="#ffcf4e"/>
<path d="M1027.4,145.5 L1040.5,136.3 L1027.6,139.0 L1014.5,148.2Z" fill="#a8ff35"/>
<path d="M1053.6,134.4 L1066.5,125.0 L1053.4,126.9 L1040.5,136.3Z" fill="#f7ff42"/>
<path d="M988.0,165.7 L1001.3,157.1 L988.7,160.7 L975.4,169.3Z" fill="#23ff2c"/>
<path d="M1093.3,123.7 L1106.2,114.1 L1092.7,114.3 L1079.8,124.0Z" fill="#ffbf52"/>
<path d="M1014.2,154.3 L1027.4,145.5 L1014.5,148.2 L1001.3,157.1Z" fill="#7fff30"/>
<path d="M1066.8,133.3 L1079.8,124.0 L1066.5,125.0 L1053.6,134.4Z" fill="#ffea47"/>
<path d="M1040.5,143.5 L1053.6,134.4 L1040.5,136.3 L1027.4,145.5Z" fill="#d5ff3c"/>
<path d="M974.6,174.0 L988.0,165.7 L975.4,169.3 L962.0,177.7Z" fill="#1eff4a"/>
<path d="M1106.9,124.3 L1119.8,114.7 L1106.2,114.1 L1093.3,123.7Z" fill="#ffb356"/>
<path d="M1000.9,162.9 L1014.2,154.3 L1001.3,157.1 L988.0,165.7Z" fill="#57ff2a"/>
<path d="M1080.3,133.0 L1093.3,123.7 L1079.8,124.0 L1066.8,133.3Z" fill="#ffd44c"/>
<path d="M1027.3,152.3 L1040.5,143.5 L1027.4,145.5 L1014.2,154.3Z" fill="#afff36"/>
<path d="M1053.7,142.4 L1066.8,133.3 L1053.6,134.4 L1040.5,143.5Z" fill="#f5ff42"/>
<path d="M961.0,181.9 L974.6,174.0 L962.0,177.7 L948.4,185.7Z" fill="#1aff65"/>
<path d="M1120.7,125.7 L1133.6,116.2 L1119.8,114.7 L1106.9,124.3Z" fill="#ffaa59"/>
<path d="M987.4,171.1 L1000.9,162.9 L988.0,165.7 L974.6,174.0Z" fill="#31ff25"/>
<path d="M1093.9,133.6 L1106.9,124.3 L1093.3,123.7 L1080.3,133.0Z" fill="#ffc750"/>
<path d="M1013.9,160.8 L1027.3,152.3 L1014.2,154.3 L1000.9,162.9Z" fill="#8aff31"/>
<path d="M1067.1,142.0 L1080.3,133.0 L1066.8,133.3 L1053.7,142.4Z" fill="#ffef46"/>
<path d="M1040.5,151.1 L1053.7,142.4 L1040.5,143.5 L1027.3,152.3Z" fill="#d6ff3c"/>
<path d="M947.3,189.6 L961.0,181.9 L948.4,185.7 L934.7,193.4Z" fill="#1aff80"/>
<path d="M1134.6,128.0 L1147.5,118.5 L1133.6,116.2 L1120.7,125.7Z" fill="#ffa45b"/>
<path d="M973.8,179.0 L987.4,171.1 L974.6,174.0 L961.0,181.9Z" fill="#21ff36"/>
<path d="M1107.6,135.0 L1120.7,125.7 L1106.9,124.3 L1093.9,133.6Z" fill="#ffbd53"/>
<path d="M1000.4,168.9 L1013.9,160.8 L1000.9,162.9 L987.4,171.1Z" fill="#67ff2c"/>
<path d="M1080.7,142.5 L1093.9,133.6 L1080.3,133.0 L1067.1,142.0Z" fill="#ffdb4a"/>
<path d="M1027.1,159.5 L1040.5,151.1 L1027.3,152.3 L1013.9,160.8Z" fill="#b4ff37"/>
<path d="M1053.9,150.7 L1067.1,142.0 L1053.7,142.4 L1040.5,151.1Z" fill="#f2ff41"/>
<path d="M933.4,196.9 L947.3,189.6 L934.7,193.4 L920.9,200.8Z" fill="#1aff98"/>
<path d="M1148.7,131.2 L1161.6,121.7 L1147.5,118.5 L1134.6,128.0Z" fill="#ffa15c"/>
<path d="M960.1,186.5 L973.8,179.0 L961.0,181.9 L947.3,189.6Z" fill="#1dff4e"/>
<path d="M1121.6,137.2 L1134.6,128.0 L1120.7,125.7 L1107.6,135.0Z" fill="#ffb755"/>
<path d="M986.8,176.8 L1000.4,168.9 L987.4,171.1 L973.8,179.0Z" fill="#45ff28"/>
<path d="M1094.5,143.9 L1107.6,135.0 L1093.9,133.6 L1080.7,142.5Z" fill="#ffd04d"/>
<path d="M1013.6,167.6 L1027.1,159.5 L1013.9,160.8 L1000.4,168.9Z" fill="#93ff32"/>
<path d="M1067.4,151.2 L1080.7,142.5 L1067.1,142.0 L1053.9,150.7Z" fill="#fff645"/>
<path d="M1040.5,159.1 L1053.9,150.7 L1040.5,151.1 L1027.1,159.5Z" fill="#d6ff3c"/>
<path d="M919.4,203.9 L933.4,196.9 L920.9,200.8 L906.9,207.8Z" fill="#1affad"/>
<path d="M1162.9,135.2 L1175.9,125.8 L1161.6,121.7 L1148.7,131.2Z" fill="#ffa15c"/>
<path d="M946.1,193.7 L960.1,186.5 L947.3,189.6 L933.4,196.9Z" fill="#1aff62"/>
<path d="M1135.6,140.3 L1148.7,131.2 L1134.6,128.0 L1121.6,137.2Z" fill="#ffb356"/>
<path d="M973.0,184.3 L986.8,176.8 L973.8,179.0 L960.1,186.5Z" fill="#26ff24"/>
<path d="M1108.4,146.1 L1121.6,137.2 L1107.6,135.0 L1094.5,143.9Z" fill="#ffc94f"/>
<path d="M999.9,175.4 L1013.6,167.6 L1000.4,168.9 L986.8,176.8Z" fill="#75ff2e"/>
<path d="M1081.2,152.4 L1094.5,143.9 L1080.7,142.5 L1067.4,151.2Z" fill="#ffe648"/>
<path d="M1026.9,167.1 L1040.5,159.1 L1027.1,159.5 L1013.6,167.6Z" fill="#b8ff38"/>
<path d="M1054.0,159.5 L1067.4,151.2 L1053.9,150.7 L1040.5,159.1Z" fill="#eeff40"/>
<path d="M905.2,210.5 L919.4,203.9 L906.9,207.8 L892.7,214.6Z" fill="#1affbf"/>
<path d="M1177.3,140.1 L1190.2,130.7 L1175.9,125.8 L1162.9,135.2Z" fill="#ffa35b"/>
<path d="M932.1,200.7 L946.1,193.7 L933.4,196.9 L919.4,203.9Z" fill="#1aff77"/>
<path d="M1149.9,144.3 L1162.9,135.2 L1148.7,131.2 L1135.6,140.3Z" fill="#ffb256"/>
<path d="M959.1,191.4 L973.0,184.3 L960.1,186.5 L946.1,193.7Z" fill="#21ff38"/>
<path d="M1122.5,149.1 L1135.6,140.3 L1121.6,137.2 L1108.4,146.1Z" fill="#ffc451"/>
<path d="M986.1,182.8 L999.9,175.4 L986.8,176.8 L973.0,184.3Z" fill="#58ff2a"/>
<path d="M1095.1,154.6 L1108.4,146.1 L1094.5,143.9 L1081.2,152.4Z" fill="#ffdb4a"/>
<path d="M1013.3,174.8 L1026.9,167.1 L1013.6,167.6 L999.9,175.4Z" fill="#9bff33"/>
<path d="M1067.8,160.7 L1081.2,152.4 L1067.4,151.2 L1054.0,159.5Z" fill="#ffff43"/>
<path d="M1040.5,167.4 L1054.0,159.5 L1040.5,159.1 L1026.9,167.1Z" fill="#d4ff3c"/>
<path d="M890.8,216.8 L905.2,210.5 L892.7,214.6 L878.4,220.9Z" fill="#1affcf"/>
<path d="M1191.8,146.0 L1204.8,136.6 L1190.2,130.7 L1177.3,140.1Z" fill="#ffa85a"/>
<path d="M917.9,207.2 L932.1,200.7 L919.4,203.9 L905.2,210.5Z" fill="#1aff88"/>
<path d="M1164.3,149.2 L1177.3,140.1 L1162.9,135.2 L1149.9,144.3Z" fill="#ffb456"/>
<path d="M945.0,198.2 L959.1,191.4 L946.1,193.7 L932.1,200.7Z" fill="#1eff4a"/>
<path d="M1136.7,153.1 L1149.9,144.3 L1135.6,140.3 L1122.5,149.1Z" fill="#ffc351"/>
<path d="M972.2,189.9 L986.1,182.8 L973.0,184.3 L959.1,191.4Z" fill="#3eff27"/>
<path d="M1109.2,157.6 L1122.5,149.1 L1108.4,146.1 L1095.1,154.6Z" fill="#ffd54c"/>
<path d="M999.4,182.2 L1013.3,174.8 L999.9,175.4 L986.1,182.8Z" fill="#81ff30"/>
<path d="M1081.7,162.8 L1095.1,154.6 L1081.2,152.4 L1067.8,160.7Z" fill="#fff246"/>
<path d="M1026.8,175.1 L1040.5,167.4 L1026.9,167.1 L1013.3,174.8Z" fill="#baff38"/>
<path d="M1054.2,168.6 L1067.8,160.7 L1054.0,159.5 L1040.5,167.4Z" fill="#e8ff3f"/>
<path d="M876.3,222.8 L890.8,216.8 L878.4,220.9 L863.9,227.0Z" fill="#1affdc"/>
<path d="M1206.5,152.8 L1219.4,143.4 L1204.8,136.6 L1191.8,146.0Z" fill="#ffaf57"/>
<path d="M903.5,213.4 L917.9,207.2 L905.2,210.5 L890.8,216.8Z" fill="#1aff97"/>
<path d="M1178.8,155.1 L1191.8,146.0 L1177.3,140.1 L1164.3,149.2Z" fill="#ffb954"/>
<path d="M930.7,204.7 L945.0,198.2 L932.1,200.7 L917.9,207.2Z" fill="#1bff59"/>
<path d="M1151.1,158.0 L1164.3,149.2 L1149.9,144.3 L1136.7,153.1Z" fill="#ffc551"/>
<path d="M958.0,196.7 L972.2,189.9 L959.1,191.4 L945.0,198.2Z" fill="#27ff24"/>
<path d="M1123.4,161.6 L1136.7,153.1 L1122.5,149.1 L1109.2,157.6Z" fill="#ffd44c"/>
<path d="M985.5,189.2 L999.4,182.2 L986.1,182.8 L972.2,189.9Z" fill="#69ff2d"/>
<path d="M1095.7,165.8 L1109.2,157.6 L1095.1,154.6 L1081.7,162.8Z" fill="#ffea47"/>
<path d="M1012.9,182.4 L1026.8,175.1 L1013.3,174.8 L999.4,182.2Z" fill="#a1ff34"/>
<path d="M1068.1,170.7 L1081.7,162.8 L1067.8,160.7 L1054.2,168.6Z" fill="#f6ff42"/>
<path d="M1040.5,176.2 L1054.2,168.6 L1040.5,167.4 L1026.8,175.1Z" fill="#d1ff3b"/>
<path d="M861.6,228.4 L876.3,222.8 L863.9,227.0 L849.3,232.7Z" fill="#1affe6"/>
<path d="M1221.3,160.5 L1234.2,151.2 L1219.4,143.4 L1206.5,152.8Z" fill="#ffba54"/>
<path d="M888.9,219.3 L903.5,213.4 L890.8,216.8 L876.3,222.8Z" fill="#1affa3"/>
<path d="M1193.5,161.8 L1206.5,152.8 L1191.8,146.0 L1178.8,155.1Z" fill="#ffc052"/>
<path d="M916.3,210.9 L930.7,204.7 L917.9,207.2 L903.5,213.4Z" fill="#1aff65"/>
<path d="M1165.6,163.8 L1178.8,155.1 L1164.3,149.2 L1151.1,158.0Z" fill="#ffc94f"/>
<path d="M943.8,203.1 L958.0,196.7 L945.0,198.2 L930.7,204.7Z" fill="#22ff31"/>
<path d="M1137.8,166.4 L1151.1,158.0 L1136.7,153.1 L1123.4,161.6Z" fill="#ffd54c"/>
<path d="M971.3,195.9 L985.5,189.2 L972.2,189.9 L958.0,196.7Z" fill="#53ff2a"/>
<path d="M1109.9,169.7 L1123.4,161.6 L1109.2,157.6 L1095.7,165.8Z" fill="#ffe748"/>
<path d="M998.9,189.4 L1012.9,182.4 L999.4,182.2 L985.5,189.2Z" fill="#8bff31"/>
<path d="M1082.1,173.6 L1095.7,165.8 L1081.7,162.8 L1068.1,170.7Z" fill="#ffff43"/>
<path d="M1026.6,183.5 L1040.5,176.2 L1026.8,175.1 L1012.9,182.4Z" fill="#baff38"/>
<path d="M1054.4,178.2 L1068.1,170.7 L1054.2,168.6 L1040.5,176.2Z" fill="#e1ff3e"/>
<path d="M846.7,233.7 L861.6,228.4 L849.3,232.7 L834.4,238.1Z" fill="#1affed"/>
<path d="M1236.3,169.2 L1249.2,159.9 L1234.2,151.2 L1221.3,160.5Z" fill="#ffc850"/>
<path d="M874.2,224.9 L888.9,219.3 L876.3,222.8 L861.6,228.4Z" fill="#1affad"/>
<path d="M1208.3,169.5 L1221.3,160.5 L1206.5,152.8 L1193.5,161.8Z" fill="#ffcb4f"/>
<path d="M901.7,216.7 L916.3,210.9 L903.5,213.4 L888.9,219.3Z" fill="#1aff71"/>
<path d="M1180.3,170.5 L1193.5,161.8 L1178.8,155.1 L1165.6,163.8Z" fill="#ffd14d"/>
<path d="M929.3,209.2 L943.8,203.1 L930.7,204.7 L916.3,210.9Z" fill="#20ff3e"/>
<path d="M1152.3,172.2 L1165.6,163.8 L1151.1,158.0 L1137.8,166.4Z" fill="#ffd94b"/>
<path d="M957.0,202.3 L971.3,195.9 L958.0,196.7 L943.8,203.1Z" fill="#41ff27"/>
<path d="M1124.3,174.5 L1137.8,166.4 L1123.4,161.6 L1109.9,169.7Z" fill="#ffe848"/>
<path d="M984.8,196.0 L998.9,189.4 L985.5,189.2 L971.3,195.9Z" fill="#77ff2f"/>
<path d="M1096.4,177.5 L1109.9,169.7 L1095.7,165.8 L1082.1,173.6Z" fill="#fffb44"/>
<path d="M1012.6,190.4 L1026.6,183.5 L1012.9,182.4 L998.9,189.4Z" fill="#a5ff35"/>
<path d="M1068.4,181.1 L1082.1,173.6 L1068.1,170.7 L1054.4,178.2Z" fill="#ebff40"/>
<path d="M1040.5,185.4 L1054.4,178.2 L1040.5,176.2 L1026.6,183.5Z" fill="#cdff3b"/>
<path d="M831.6,238.6 L846.7,233.7 L834.4,238.1 L819.4,243.1Z" fill="#1afff1"/>
<path d="M1251.4,178.8 L1264.3,169.5 L1249.2,159.9 L1236.3,169.2Z" fill="#ffda4b"/>
<path d="M859.2,230.1 L874.2,224.9 L861.6,228.4 L846.7,233.7Z" fill="#1affb3"/>
<path d="M1223.3,178.2 L1236.3,169.2 L1221.3,160.5 L1208.3,169.5Z" fill="#ffda4b"/>
<path d="M886.9,222.1 L901.7,216.7 L888.9,219.3 L874.2,224.9Z" fill="#1aff79"/>
<path d="M1195.2,178.2 L1208.3,169.5 L1193.5,161.8 L1180.3,170.5Z" fill="#ffdd4a"/>
<path d="M914.7,214.9 L929.3,209.2 L916.3,210.9 L901.7,216.7Z" fill="#1eff48"/>
<path d="M1167.0,178.9 L1180.3,170.5 L1165.6,163.8 L1152.3,172.2Z" fill="#ffe449"/>
<path d="M942.5,208.3 L957.0,202.3 L943.8,203.1 L929.3,209.2Z" fill="#31ff26"/>
<path d="M1138.9,180.2 L1152.3,172.2 L1137.8,166.4 L1124.3,174.5Z" fill="#ffee47"/>
<path d="M970.5,202.3 L984.8,196.0 L971.3,195.9 L957.0,202.3Z" fill="#66ff2c"/>
<path d="M1110.7,182.3 L1124.3,174.5 L1109.9,169.7 L1096.4,177.5Z" fill="#fffc44"/>
<path d="M998.4,197.0 L1012.6,190.4 L998.9,189.4 L984.8,196.0Z" fill="#93ff32"/>
<path d="M1082.6,184.9 L1096.4,177.5 L1082.1,173.6 L1068.4,181.1Z" fill="#efff41"/>
<path d="M1026.5,192.3 L1040.5,185.4 L1026.6,183.5 L1012.6,190.4Z" fill="#b9ff38"/>
<path d="M1054.5,188.3 L1068.4,181.1 L1054.4,178.2 L1040.5,185.4Z" fill="#d8ff3c"/>
<path d="M816.4,243.1 L831.6,238.6 L819.4,243.1 L804.1,247.8Z" fill="#1afff3"/>
<path d="M1266.6,189.4 L1279.4,180.1 L1264.3,169.5 L1251.4,178.8Z" fill="#fff845"/>
<path d="M844.1,234.9 L859.2,230.1 L846.7,233.7 L831.6,238.6Z" fill="#1affb7"/>
<path d="M1238.4,187.8 L1251.4,178.8 L1236.3,169.2 L1223.3,178.2Z" fill="#fff346"/>
<path d="M871.9,227.2 L886.9,222.1 L874.2,224.9 L859.2,230.1Z" fill="#1aff7f"/>
<path d="M1210.1,186.8 L1223.3,178.2 L1208.3,169.5 L1195.2,178.2Z" fill="#fff146"/>
<path d="M899.9,220.2 L914.7,214.9 L901.7,216.7 L886.9,222.1Z" fill="#1dff4e"/>
<path d="M1181.9,186.5 L1195.2,178.2 L1180.3,170.5 L1167.0,178.9Z" fill="#fff346"/>
<path d="M927.9,213.9 L942.5,208.3 L929.3,209.2 L914.7,214.9Z" fill="#25ff24"/>
<path d="M1153.6,186.9 L1167.0,178.9 L1152.3,172.2 L1138.9,180.2Z" fill="#fff945"/>
<path d="M956.0,208.2 L970.5,202.3 L957.0,202.3 L942.5,208.3Z" fill="#58ff2a"/>
<path d="M1125.3,188.0 L1138.9,180.2 L1124.3,174.5 L1110.7,182.3Z" fill="#fcff43"/>
<path d="M984.1,203.2 L998.4,197.0 L984.8,196.0 L970.5,202.3Z" fill="#84ff30"/>
<path d="M1097.0,189.7 L1110.7,182.3 L1096.4,177.5 L1082.6,184.9Z" fill="#efff40"/>
<path d="M1012.3,198.8 L1026.5,192.3 L1012.6,190.4 L998.4,197.0Z" fill="#a8ff35"/>
<path d="M1068.7,192.1 L1082.6,184.9 L1068.4,181.1 L1054.5,188.3Z" fill="#deff3d"/>
<path d="M1040.5,195.1 L1054.5,188.3 L1040.5,185.4 L1026.5,192.3Z" fill="#c7ff3a"/>
<path d="M800.9,247.3 L816.4,243.1 L804.1,247.8 L788.7,252.1Z" fill="#1afff1"/>
<path d="M1281.9,201.0 L1294.7,191.7 L1279.4,180.1 L1266.6,189.4Z" fill="#e0ff3e"/>
<path d="M828.8,239.3 L844.1,234.9 L831.6,238.6 L816.4,243.1Z" fill="#1affb7"/>
<path d="M1253.6,198.4 L1266.6,189.4 L1251.4,178.8 L1238.4,187.8Z" fill="#ebff40"/>
<path d="M856.8,232.0 L871.9,227.2 L859.2,230.1 L844.1,234.9Z" fill="#1aff82"/>
<path d="M1225.2,196.4 L1238.4,187.8 L1223.3,178.2 L1210.1,186.8Z" fill="#f3ff41"/>
<path d="M884.9,225.3 L899.9,220.2 L886.9,222.1 L871.9,227.2Z" fill="#1cff53"/>
<path d="M1196.8,195.2 L1210.1,186.8 L1195.2,178.2 L1181.9,186.5Z" fill="#f6ff42"/>
<path d="M913.0,219.2 L927.9,213.9 L914.7,214.9 L899.9,220.2Z" fill="#23ff2a"/>
<path d="M1168.4,194.5 L1181.9,186.5 L1167.0,178.9 L1153.6,186.9Z" fill="#f6ff42"/>
<path d="M941.3,213.8 L956.0,208.2 L942.5,208.3 L927.9,213.9Z" fill="#4dff29"/>
<path d="M1140.0,194.6 L1153.6,186.9 L1138.9,180.2 L1125.3,188.0Z" fill="#f2ff41"/>
<path d="M969.6,209.1 L984.1,203.2 L970.5,202.3 L956.0,208.2Z" fill="#77ff2f"/>
<path d="M1111.6,195.3 L1125.3,188.0 L1110.7,182.3 L1097.0,189.7Z" fill="#eaff40"/>
<path d="M997.9,205.0 L1012.3,198.8 L998.4,197.0 L984.1,203.2Z" fill="#9aff33"/>
<path d="M1083.1,196.7 L1097.0,189.7 L1082.6,184.9 L1068.7,192.1Z" fill="#dfff3e"/>
<path d="M1026.3,201.6 L1040.5,195.1 L1026.5,192.3 L1012.3,198.8Z" fill="#b7ff37"/>
<path d="M1054.7,198.8 L1068.7,192.1 L1054.5,188.3 L1040.5,195.1Z" fill="#ceff3b"/>
<path d="M785.2,251.2 L800.9,247.3 L788.7,252.1 L773.1,256.0Z" fill="#1affed"/>
<path d="M1297.4,213.6 L1310.2,204.3 L1294.7,191.7 L1281.9,201.0Z" fill="#adff36"/>
<path d="M813.3,243.4 L828.8,239.3 L816.4,243.1 L800.9,247.3Z" fill="#1affb5"/>
<path d="M1268.9,210.0 L1281.9,201.0 L1266.6,189.4 L1253.6,198.4Z" fill="#c2ff39"/>
<path d="M841.4,236.3 L856.8,232.0 L844.1,234.9 L828.8,239.3Z" fill="#1aff82"/>
<path d="M1240.5,207.0 L1253.6,198.4 L1238.4,187.8 L1225.2,196.4Z" fill="#d1ff3b"/>
<path d="M869.7,229.9 L884.9,225.3 L871.9,227.2 L856.8,232.0Z" fill="#1cff54"/>
<path d="M1212.0,204.8 L1225.2,196.4 L1210.1,186.8 L1196.8,195.2Z" fill="#dbff3d"/>
<path d="M898.0,224.1 L913.0,219.2 L899.9,220.2 L884.9,225.3Z" fill="#22ff2e"/>
<path d="M1183.4,203.1 L1196.8,195.2 L1181.9,186.5 L1168.4,194.5Z" fill="#e1ff3e"/>
<path d="M926.4,219.0 L941.3,213.8 L927.9,213.9 L913.0,219.2Z" fill="#46ff28"/>
<path d="M1154.9,202.2 L1168.4,194.5 L1153.6,186.9 L1140.0,194.6Z" fill="#e2ff3e"/>
<path d="M954.9,214.6 L969.6,209.1 L956.0,208.2 L941.3,213.8Z" fill="#6eff2d"/>
<path d="M1126.3,201.9 L1140.0,194.6 L1125.3,188.0 L1111.6,195.3Z" fill="#e0ff3e"/>
<path d="M983.4,210.8 L997.9,205.0 L984.1,203.2 L969.6,209.1Z" fill="#8eff32"/>
<path d="M1097.7,202.4 L1111.6,195.3 L1097.0,189.7 L1083.1,196.7Z" fill="#daff3d"/>
<path d="M1011.9,207.7 L1026.3,201.6 L1012.3,198.8 L997.9,205.0Z" fill="#a9ff35"/>
<path d="M1069.1,203.5 L1083.1,196.7 L1068.7,192.1 L1054.7,198.8Z" fill="#cfff3b"/>
<path d="M1040.5,205.2 L1054.7,198.8 L1040.5,195.1 L1026.3,201.6Z" fill="#bfff39"/>
<path d="M769.3,254.6 L785.2,251.2 L773.1,256.0 L757.2,259.5Z" fill="#1affe6"/>
<path d="M1312.9,227.2 L1325.7,217.9 L1310.2,204.3 L1297.4,213.6Z" fill="#6fff2d"/>
<path d="M797.5,247.1 L813.3,243.4 L800.9,247.3 L785.2,251.2Z" fill="#1affb0"/>
<path d="M1284.4,222.6 L1297.4,213.6 L1281.9,201.0 L1268.9,210.0Z" fill="#8cff31"/>
<path d="M825.9,240.3 L841.4,236.3 L828.8,239.3 L813.3,243.4Z" fill="#1aff7f"/>
<path d="M1255.9,218.6 L1268.9,210.0 L1253.6,198.4 L1240.5,207.0Z" fill="#a4ff35"/>
<path d="M854.3,234.2 L869.7,229.9 L856.8,232.0 L841.4,236.3Z" fill="#1cff54"/>
<path d="M1227.2,215.3 L1240.5,207.0 L1225.2,196.4 L1212.0,204.8Z" fill="#b6ff37"/>
<path d="M882.8,228.7 L898.0,224.1 L884.9,225.3 L869.7,229.9Z" fill="#22ff2f"/>
<path d="M1198.6,212.7 L1212.0,204.8 L1196.8,195.2 L1183.4,203.1Z" fill="#c3ff39"/>
<path d="M911.4,223.9 L926.4,219.0 L913.0,219.2 L898.0,224.1Z" fill="#42ff28"/>
<path d="M1169.9,210.8 L1183.4,203.1 L1168.4,194.5 L1154.9,202.2Z" fill="#ccff3b"/>
<path d="M940.0,219.7 L954.9,214.6 L941.3,213.8 L926.4,219.0Z" fill="#67ff2c"/>
<path d="M1141.1,209.5 L1154.9,202.2 L1140.0,194.6 L1126.3,201.9Z" fill="#d0ff3b"/>
<path d="M968.7,216.2 L983.4,210.8 L969.6,209.1 L954.9,214.6Z" fill="#86ff31"/>
<path d="M1112.4,208.9 L1126.3,201.9 L1111.6,195.3 L1097.7,202.4Z" fill="#d0ff3b"/>
<path d="M997.4,213.4 L1011.9,207.7 L997.9,205.0 L983.4,210.8Z" fill="#9fff34"/>
<path d="M1083.6,209.0 L1097.7,202.4 L1083.1,196.7 L1069.1,203.5Z" fill="#caff3a"/>
<path d="M1026.1,211.3 L1040.5,205.2 L1026.3,201.6 L1011.9,207.7Z" fill="#b2ff37"/>
<path d="M1054.9,209.8 L1069.1,203.5 L1054.7,198.8 L1040.5,205.2Z" fill="#c1ff39"/>
<path d="M781.6,250.5 L797.5,247.1 L785.2,251.2 L769.3,254.6Z" fill="#1affa8"/>
<path d="M1300.0,236.2 L1312.9,227.2 L1297.4,213.6 L1284.4,222.6Z" fill="#4cff29"/>
<path d="M810.1,243.9 L825.9,240.3 L813.3,243.4 L797.5,247.1Z" fill="#1aff79"/>
<path d="M1271.4,231.2 L1284.4,222.6 L1268.9,210.0 L1255.9,218.6Z" fill="#6dff2d"/>
<path d="M838.7,238.1 L854.3,234.2 L841.4,236.3 L825.9,240.3Z" fill="#1dff51"/>
<path d="M1242.6,226.9 L1255.9,218.6 L1240.5,207.0 L1227.2,215.3Z" fill="#88ff31"/>
<path d="M867.4,232.9 L882.8,228.7 L869.7,229.9 L854.3,234.2Z" fill="#22ff2d"/>
<path d="M1213.9,223.3 L1227.2,215.3 L1212.0,204.8 L1198.6,212.7Z" fill="#9dff34"/>
<path d="M896.1,228.3 L911.4,223.9 L898.0,224.1 L882.8,228.7Z" fill="#41ff28"/>
<path d="M1185.0,220.4 L1198.6,212.7 L1183.4,203.1 L1169.9,210.8Z" fill="#adff36"/>
<path d="M924.9,224.5 L940.0,219.7 L926.4,219.0 L911.4,223.9Z" fill="#64ff2c"/>
<path d="M1156.2,218.1 L1169.9,210.8 L1154.9,202.2 L1141.1,209.5Z" fill="#b8ff38"/>
<path d="M953.8,221.3 L968.7,216.2 L954.9,214.6 L940.0,219.7Z" fill="#81ff30"/>
<path d="M1127.3,216.5 L1141.1,209.5 L1126.3,201.9 L1112.4,208.9Z" fill="#beff38"/>
<path d="M982.6,218.8 L997.4,213.4 L983.4,210.8 L968.7,216.2Z" fill="#97ff33"/>
<path d="M1098.3,215.6 L1112.4,208.9 L1097.7,202.4 L1083.6,209.0Z" fill="#c0ff39"/>
<path d="M1011.6,217.0 L1026.1,211.3 L1011.9,207.7 L997.4,213.4Z" fill="#a9ff35"/>
<path d="M1069.4,215.4 L1083.6,209.0 L1069.1,203.5 L1054.9,209.8Z" fill="#bdff38"/>
<path d="M1040.5,215.8 L1054.9,209.8 L1040.5,205.2 L1026.1,211.3Z" fill="#b5ff37"/>
<path d="M794.1,247.1 L810.1,243.9 L797.5,247.1 L781.6,250.5Z" fill="#1aff70"/>
<path d="M1287.0,244.8 L1300.0,236.2 L1284.4,222.6 L1271.4,231.2Z" fill="#2bff25"/>
<path d="M822.9,241.6 L838.7,238.1 L825.9,240.3 L810.1,243.9Z" fill="#1eff4b"/>
<path d="M1258.2,239.5 L1271.4,231.2 L1255.9,218.6 L1242.6,226.9Z" fill="#50ff29"/>
<path d="M851.7,236.7 L867.4,232.9 L854.3,234.2 L838.7,238.1Z" fill="#23ff29"/>
<path d="M1229.3,234.9 L1242.6,226.9 L1227.2,215.3 L1213.9,223.3Z" fill="#6eff2d"/>
<path d="M880.7,232.4 L896.1,228.3 L882.8,228.7 L867.4,232.9Z" fill="#44ff28"/>
<path d="M1200.3,230.9 L1213.9,223.3 L1198.6,212.7 L1185.0,220.4Z" fill="#86ff31"/>
<path d="M909.6,228.9 L924.9,224.5 L911.4,223.9 L896.1,228.3Z" fill="#64ff2c"/>
<path d="M1171.3,227.6 L1185.0,220.4 L1169.9,210.8 L1156.2,218.1Z" fill="#99ff33"/>
<path d="M938.7,226.0 L953.8,221.3 L940.0,219.7 L924.9,224.5Z" fill="#7eff30"/>
<path d="M1142.3,225.0 L1156.2,218.1 L1141.1,209.5 L1127.3,216.5Z" fill="#a6ff35"/>
<path d="M967.7,223.8 L982.6,218.8 L968.7,216.2 L953.8,221.3Z" fill="#93ff32"/>
<path d="M1113.2,223.1 L1127.3,216.5 L1112.4,208.9 L1098.3,215.6Z" fill="#afff36"/>
<path d="M996.8,222.3 L1011.6,217.0 L997.4,213.4 L982.6,218.8Z" fill="#a2ff34"/>
<path d="M1084.1,221.9 L1098.3,215.6 L1083.6,209.0 L1069.4,215.4Z" fill="#b3ff37"/>
<path d="M1025.9,221.5 L1040.5,215.8 L1026.1,211.3 L1011.6,217.0Z" fill="#adff36"/>
<path d="M1055.0,221.3 L1069.4,215.4 L1054.9,209.8 L1040.5,215.8Z" fill="#b2ff37"/>
<path d="M806.8,244.7 L822.9,241.6 L810.1,243.9 L794.1,247.1Z" fill="#1fff43"/>
<path d="M1273.8,253.1 L1287.0,244.8 L1271.4,231.2 L1258.2,239.5Z" fill="#21ff35"/>
<path d="M835.9,240.1 L851.7,236.7 L838.7,238.1 L822.9,241.6Z" fill="#26ff24"/>
<path d="M1244.8,247.5 L1258.2,239.5 L1242.6,226.9 L1229.3,234.9Z" fill="#35ff26"/>
<path d="M865.0,236.1 L880.7,232.4 L867.4,232.9 L851.7,236.7Z" fill="#4aff29"/>
<path d="M1215.8,242.5 L1229.3,234.9 L1213.9,223.3 L1200.3,230.9Z" fill="#57ff2a"/>
<path d="M894.2,232.9 L909.6,228.9 L896.1,228.3 L880.7,232.4Z" fill="#68ff2d"/>
<path d="M1186.7,238.2 L1200.3,230.9 L1185.0,220.4 L1171.3,227.6Z" fill="#72ff2e"/>
<path d="M923.4,230.3 L938.7,226.0 L924.9,224.5 L909.6,228.9Z" fill="#7fff30"/>
<path d="M1157.5,234.6 L1171.3,227.6 L1156.2,218.1 L1142.3,225.0Z" fill="#87ff31"/>
<path d="M952.6,228.4 L967.7,223.8 L953.8,221.3 L938.7,226.0Z" fill="#92ff32"/>
<path d="M1128.3,231.6 L1142.3,225.0 L1127.3,216.5 L1113.2,223.1Z" fill="#98ff33"/>
<path d="M981.9,227.2 L996.8,222.3 L982.6,218.8 L967.7,223.8Z" fill="#9fff34"/>
<path d="M1099.0,229.4 L1113.2,223.1 L1098.3,215.6 L1084.1,221.9Z" fill="#a3ff35"/>
<path d="M1011.2,226.7 L1025.9,221.5 L1011.6,217.0 L996.8,222.3Z" fill="#a7ff35"/>
<path d="M1069.8,227.8 L1084.1,221.9 L1069.4,215.4 L1055.0,221.3Z" fill="#a9ff35"/>
<path d="M1040.5,226.9 L1055.0,221.3 L1040.5,215.8 L1025.9,221.5Z" fill="#aaff36"/>
<path d="M819.8,243.1 L835.9,240.1 L822.9,241.6 L806.8,244.7Z" fill="#32ff26"/>
<path d="M1260.5,261.1 L1273.8,253.1 L1258.2,239.5 L1244.8,247.5Z" fill="#1eff49"/>
<path d="M849.1,239.4 L865.0,236.1 L851.7,236.7 L835.9,240.1Z" fill="#53ff2a"/>
<path d="M1231.4,255.1 L1244.8,247.5 L1229.3,234.9 L1215.8,242.5Z" fill="#23ff29"/>
<path d="M878.5,236.5 L894.2,232.9 L880.7,232.4 L865.0,236.1Z" fill="#6eff2d"/>
<path d="M1202.1,249.7 L1215.8,242.5 L1200.3,230.9 L1186.7,238.2Z" fill="#42ff28"/>
<path d="M907.9,234.2 L923.4,230.3 L909.6,228.9 L894.2,232.9Z" fill="#84ff30"/>
<path d="M1172.8,245.1 L1186.7,238.2 L1171.3,227.6 L1157.5,234.6Z" fill="#60ff2c"/>
<path d="M937.3,232.7 L952.6,228.4 L938.7,226.0 L923.4,230.3Z" fill="#94ff32"/>
<path d="M1143.5,241.1 L1157.5,234.6 L1142.3,225.0 L1128.3,231.6Z" fill="#79ff2f"/>
<path d="M966.8,231.8 L981.9,227.2 L967.7,223.8 L952.6,228.4Z" fill="#9eff34"/>
<path d="M1114.1,237.8 L1128.3,231.6 L1113.2,223.1 L1099.0,229.4Z" fill="#8cff31"/>
<path d="M996.3,231.6 L1011.2,226.7 L996.8,222.3 L981.9,227.2Z" fill="#a4ff35"/>
<path d="M1084.7,235.3 L1099.0,229.4 L1084.1,221.9 L1069.8,227.8Z" fill="#99ff33"/>
<path d="M1025.7,232.1 L1040.5,226.9 L1025.9,221.5 L1011.2,226.7Z" fill="#a5ff35"/>
<path d="M1055.2,233.4 L1069.8,227.8 L1055.0,221.3 L1040.5,226.9Z" fill="#a2ff34"/>
<path d="M833.0,242.4 L849.1,239.4 L835.9,240.1 L819.8,243.1Z" fill="#60ff2b"/>
<path d="M1247.1,268.7 L1260.5,261.1 L1244.8,247.5 L1231.4,255.1Z" fill="#1bff59"/>
<path d="M862.6,239.7 L878.5,236.5 L865.0,236.1 L849.1,239.4Z" fill="#78ff2f"/>
<path d="M1217.7,262.3 L1231.4,255.1 L1215.8,242.5 L1202.1,249.7Z" fill="#21ff39"/>
<path d="M892.2,237.8 L907.9,234.2 L894.2,232.9 L878.5,236.5Z" fill="#8bff31"/>
<path d="M1188.3,256.7 L1202.1,249.7 L1186.7,238.2 L1172.8,245.1Z" fill="#31ff25"/>
<path d="M921.8,236.5 L937.3,232.7 L923.4,230.3 L907.9,234.2Z" fill="#98ff33"/>
<path d="M1158.9,251.6 L1172.8,245.1 L1157.5,234.6 L1143.5,241.1Z" fill="#52ff2a"/>
<path d="M951.5,236.0 L966.8,231.8 L952.6,228.4 L937.3,232.7Z" fill="#a1ff34"/>
<path d="M1129.3,247.3 L1143.5,241.1 L1128.3,231.6 L1114.1,237.8Z" fill="#6dff2d"/>
<path d="M981.1,236.1 L996.3,231.6 L981.9,227.2 L966.8,231.8Z" fill="#a4ff35"/>
<path d="M1099.7,243.7 L1114.1,237.8 L1099.0,229.4 L1084.7,235.3Z" fill="#83ff30"/>
<path d="M1010.8,237.0 L1025.7,232.1 L1011.2,226.7 L996.3,231.6Z" fill="#a3ff35"/>
<path d="M1070.1,240.8 L1084.7,235.3 L1069.8,227.8 L1055.2,233.4Z" fill="#92ff32"/>
<path d="M1040.5,238.5 L1055.2,233.4 L1040.5,226.9 L1025.7,232.1Z" fill="#9dff34"/>
<path d="M846.4,242.5 L862.6,239.7 L849.1,239.4 L833.0,242.4Z" fill="#85ff30"/>
<path d="M1233.5,276.0 L1247.1,268.7 L1231.4,255.1 L1217.7,262.3Z" fill="#1aff68"/>
<path d="M876.2,240.9 L892.2,237.8 L878.5,236.5 L862.6,239.7Z" fill="#95ff33"/>
<path d="M1204.0,269.2 L1217.7,262.3 L1202.1,249.7 L1188.3,256.7Z" fill="#1fff46"/>
<path d="M906.1,240.0 L921.8,236.5 L907.9,234.2 L892.2,237.8Z" fill="#a0ff34"/>
<path d="M1174.4,263.2 L1188.3,256.7 L1172.8,245.1 L1158.9,251.6Z" fill="#24ff25"/>
<path d="M935.9,239.8 L951.5,236.0 L937.3,232.7 L921.8,236.5Z" fill="#a6ff35"/>
<path d="M1144.7,257.8 L1158.9,251.6 L1143.5,241.1 L1129.3,247.3Z" fill="#47ff28"/>
<path d="M965.8,240.3 L981.1,236.1 L966.8,231.8 L951.5,236.0Z" fill="#a8ff35"/>
<path d="M1115.0,253.2 L1129.3,247.3 L1114.1,237.8 L1099.7,243.7Z" fill="#65ff2c"/>
<path d="M995.7,241.4 L1010.8,237.0 L996.3,231.6 L981.1,236.1Z" fill="#a4ff35"/>
<path d="M1085.2,249.2 L1099.7,243.7 L1084.7,235.3 L1070.1,240.8Z" fill="#7dff2f"/>
<path d="M1025.6,243.3 L1040.5,238.5 L1025.7,232.1 L1010.8,237.0Z" fill="#9cff34"/>
<path d="M1055.4,245.9 L1070.1,240.8 L1055.2,233.4 L1040.5,238.5Z" fill="#8fff32"/>
<path d="M860.1,243.6 L876.2,240.9 L862.6,239.7 L846.4,242.5Z" fill="#a3ff35"/>
<path d="M1219.7,282.9 L1233.5,276.0 L1217.7,262.3 L1204.0,269.2Z" fill="#1aff75"/>
<path d="M890.1,243.1 L906.1,240.0 L892.2,237.8 L876.2,240.9Z" fill="#abff36"/>
<path d="M1190.0,275.8 L1204.0,269.2 L1188.3,256.7 L1174.4,263.2Z" fill="#1dff4f"/>
<path d="M920.2,243.2 L935.9,239.8 L921.8,236.5 L906.1,240.0Z" fill="#afff36"/>
<path d="M1160.2,269.4 L1174.4,263.2 L1158.9,251.6 L1144.7,257.8Z" fill="#22ff2d"/>
<path d="M950.3,244.0 L965.8,240.3 L951.5,236.0 L935.9,239.8Z" fill="#aeff36"/>
<path d="M1130.4,263.7 L1144.7,257.8 L1129.3,247.3 L1115.0,253.2Z" fill="#3fff27"/>
<path d="M980.4,245.5 L995.7,241.4 L981.1,236.1 L965.8,240.3Z" fill="#a9ff35"/>
<path d="M1100.5,258.6 L1115.0,253.2 L1099.7,243.7 L1085.2,249.2Z" fill="#5fff2b"/>
<path d="M1010.4,247.7 L1025.6,243.3 L1010.8,237.0 L995.7,241.4Z" fill="#9eff34"/>
<path d="M1070.5,254.3 L1085.2,249.2 L1070.1,240.8 L1055.4,245.9Z" fill="#7aff2f"/>
<path d="M1040.5,250.7 L1055.4,245.9 L1040.5,238.5 L1025.6,243.3Z" fill="#8fff32"/>
<path d="M873.9,245.7 L890.1,243.1 L876.2,240.9 L860.1,243.6Z" fill="#b9ff38"/>
<path d="M1205.8,289.4 L1219.7,282.9 L1204.0,269.2 L1190.0,275.8Z" fill="#1aff7f"/>
<path d="M904.2,246.1 L920.2,243.2 L906.1,240.0 L890.1,243.1Z" fill="#baff38"/>
<path d="M1175.9,282.0 L1190.0,275.8 L1174.4,263.2 L1160.2,269.4Z" fill="#1cff56"/>
<path d="M934.5,247.3 L950.3,244.0 L935.9,239.8 L920.2,243.2Z" fill="#b7ff37"/>
<path d="M1146.0,275.2 L1160.2,269.4 L1144.7,257.8 L1130.4,263.7Z" fill="#22ff33"/>
<path d="M964.8,249.2 L980.4,245.5 L965.8,240.3 L950.3,244.0Z" fill="#b0ff36"/>
<path d="M1115.9,269.1 L1130.4,263.7 L1115.0,253.2 L1100.5,258.6Z" fill="#3aff27"/>
<path d="M995.1,251.8 L1010.4,247.7 L995.7,241.4 L980.4,245.5Z" fill="#a3ff35"/>
<path d="M1085.8,263.7 L1100.5,258.6 L1085.2,249.2 L1070.5,254.3Z" fill="#5dff2b"/>
<path d="M1025.4,255.0 L1040.5,250.7 L1025.6,243.3 L1010.4,247.7Z" fill="#91ff32"/>
<path d="M1055.6,259.0 L1070.5,254.3 L1055.4,245.9 L1040.5,250.7Z" fill="#7aff2f"/>
<path d="M888.0,248.7 L904.2,246.1 L890.1,243.1 L873.9,245.7Z" fill="#c9ff3a"/>
<path d="M1191.8,295.6 L1205.8,289.4 L1190.0,275.8 L1175.9,282.0Z" fill="#1aff86"/>
<path d="M918.5,250.2 L934.5,247.3 L920.2,243.2 L904.2,246.1Z" fill="#c3ff39"/>
<path d="M1161.7,287.8 L1175.9,282.0 L1160.2,269.4 L1146.0,275.2Z" fill="#1bff5a"/>
<path d="M949.1,252.4 L964.8,249.2 L950.3,244.0 L934.5,247.3Z" fill="#baff38"/>
<path d="M1131.5,280.6 L1146.0,275.2 L1130.4,263.7 L1115.9,269.1Z" fill="#21ff36"/>
<path d="M979.6,255.4 L995.1,251.8 L980.4,245.5 L964.8,249.2Z" fill="#abff36"/>
<path d="M1101.2,274.2 L1115.9,269.1 L1100.5,258.6 L1085.8,263.7Z" fill="#39ff27"/>
<path d="M1010.0,259.0 L1025.4,255.0 L1010.4,247.7 L995.1,251.8Z" fill="#97ff33"/>
<path d="M1070.9,268.4 L1085.8,263.7 L1070.5,254.3 L1055.6,259.0Z" fill="#5fff2b"/>
<path d="M1040.5,263.4 L1055.6,259.0 L1040.5,250.7 L1025.4,255.0Z" fill="#7eff2f"/>
<path d="M902.3,252.7 L918.5,250.2 L904.2,246.1 L888.0,248.7Z" fill="#d2ff3b"/>
<path d="M1177.5,301.4 L1191.8,295.6 L1175.9,282.0 L1161.7,287.8Z" fill="#1aff8b"/>
<path d="M933.1,255.3 L949.1,252.4 L934.5,247.3 L918.5,250.2Z" fill="#c6ff3a"/>
<path d="M1147.2,293.2 L1161.7,287.8 L1146.0,275.2 L1131.5,280.6Z" fill="#1bff5c"/>
<path d="M963.8,258.6 L979.6,255.4 L964.8,249.2 L949.1,252.4Z" fill="#b6ff37"/>
<path d="M1116.8,285.7 L1131.5,280.6 L1115.9,269.1 L1101.2,274.2Z" fill="#21ff36"/>
<path d="M994.5,262.6 L1010.0,259.0 L995.1,251.8 L979.6,255.4Z" fill="#a0ff34"/>
<path d="M1086.3,278.8 L1101.2,274.2 L1085.8,263.7 L1070.9,268.4Z" fill="#3bff27"/>
<path d="M1025.2,267.3 L1040.5,263.4 L1025.4,255.0 L1010.0,259.0Z" fill="#85ff30"/>
<path d="M1055.8,272.7 L1070.9,268.4 L1055.6,259.0 L1040.5,263.4Z" fill="#63ff2c"/>
<path d="M916.9,257.7 L933.1,255.3 L918.5,250.2 L902.3,252.7Z" fill="#d6ff3c"/>
<path d="M1163.1,306.8 L1177.5,301.4 L1161.7,287.8 L1147.2,293.2Z" fill="#1aff8c"/>
<path d="M947.8,261.4 L963.8,258.6 L949.1,252.4 L933.1,255.3Z" fill="#c3ff39"/>
<path d="M1132.6,298.2 L1147.2,293.2 L1131.5,280.6 L1116.8,285.7Z" fill="#1bff5c"/>
<path d="M978.7,265.7 L994.5,262.6 L979.6,255.4 L963.8,258.6Z" fill="#acff36"/>
<path d="M1102.0,290.3 L1116.8,285.7 L1101.2,274.2 L1086.3,278.8Z" fill="#21ff34"/>
<path d="M1009.6,270.8 L1025.2,267.3 L1010.0,259.0 L994.5,262.6Z" fill="#8fff32"/>
<path d="M1071.3,283.1 L1086.3,278.8 L1070.9,268.4 L1055.8,272.7Z" fill="#41ff28"/>
<path d="M1040.5,276.6 L1055.8,272.7 L1040.5,263.4 L1025.2,267.3Z" fill="#6bff2d"/>
<path d="M931.6,263.7 L947.8,261.4 L933.1,255.3 L916.9,257.7Z" fill="#d4ff3c"/>
<path d="M1148.5,311.9 L1163.1,306.8 L1147.2,293.2 L1132.6,298.2Z" fill="#1aff8b"/>
<path d="M962.8,268.5 L978.7,265.7 L963.8,258.6 L947.8,261.4Z" fill="#baff38"/>
<path d="M1117.8,302.9 L1132.6,298.2 L1116.8,285.7 L1102.0,290.3Z" fill="#1bff59"/>
<path d="M993.9,273.9 L1009.6,270.8 L994.5,262.6 L978.7,265.7Z" fill="#9bff34"/>
<path d="M1086.9,294.6 L1102.0,290.3 L1086.3,278.8 L1071.3,283.1Z" fill="#22ff2e"/>
<path d="M1025.0,280.1 L1040.5,276.6 L1025.2,267.3 L1009.6,270.8Z" fill="#76ff2e"/>
<path d="M1056.0,287.0 L1071.3,283.1 L1055.8,272.7 L1040.5,276.6Z" fill="#4aff29"/>
<path d="M946.5,270.8 L962.8,268.5 L947.8,261.4 L931.6,263.7Z" fill="#ccff3a"/>
<path d="M1133.7,316.5 L1148.5,311.9 L1132.6,298.2 L1117.8,302.9Z" fill="#1aff87"/>
<path d="M977.9,276.6 L993.9,273.9 L978.7,265.7 L962.8,268.5Z" fill="#abff36"/>
<path d="M1102.7,307.1 L1117.8,302.9 L1102.0,290.3 L1086.9,294.6Z" fill="#1cff54"/>
<path d="M1009.2,283.2 L1025.0,280.1 L1009.6,270.8 L993.9,273.9Z" fill="#84ff30"/>
<path d="M1071.7,298.4 L1086.9,294.6 L1071.3,283.1 L1056.0,287.0Z" fill="#23ff27"/>
<path d="M1040.5,290.5 L1056.0,287.0 L1040.5,276.6 L1025.0,280.1Z" fill="#56ff2a"/>
<path d="M961.7,278.9 L977.9,276.6 L962.8,268.5 L946.5,270.8Z" fill="#bdff38"/>
<path d="M1118.7,320.8 L1133.7,316.5 L1117.8,302.9 L1102.7,307.1Z" fill="#1aff80"/>
<path d="M993.3,285.8 L1009.2,283.2 L993.9,273.9 L977.9,276.6Z" fill="#95ff33"/>
<path d="M1087.5,311.0 L1102.7,307.1 L1086.9,294.6 L1071.7,298.4Z" fill="#1dff4c"/>
<path d="M1024.8,293.5 L1040.5,290.5 L1025.0,280.1 L1009.2,283.2Z" fill="#66ff2c"/>
<path d="M1056.2,301.9 L1071.7,298.4 L1056.0,287.0 L1040.5,290.5Z" fill="#2eff25"/>
<path d="M977.1,288.1 L993.3,285.8 L977.9,276.6 L961.7,278.9Z" fill="#a9ff35"/>
<path d="M1103.5,324.6 L1118.7,320.8 L1102.7,307.1 L1087.5,311.0Z" fill="#1aff76"/>
<path d="M1008.8,296.1 L1024.8,293.5 L1009.2,283.2 L993.3,285.8Z" fill="#78ff2f"/>
<path d="M1072.1,314.4 L1087.5,311.0 L1071.7,298.4 L1056.2,301.9Z" fill="#1fff42"/>
<path d="M1040.5,304.9 L1056.2,301.9 L1040.5,290.5 L1024.8,293.5Z" fill="#3fff27"/>
<path d="M992.6,298.3 L1008.8,296.1 L993.3,285.8 L977.1,288.1Z" fill="#8dff32"/>
<path d="M1088.1,328.0 L1103.5,324.6 L1087.5,311.0 L1072.1,314.4Z" fill="#1aff6a"/>
<path d="M1024.6,307.5 L1040.5,304.9 L1024.8,293.5 L1008.8,296.1Z" fill="#53ff2a"/>
<path d="M1056.4,317.4 L1072.1,314.4 L1056.2,301.9 L1040.5,304.9Z" fill="#21ff33"/>
<path d="M1008.4,309.7 L1024.6,307.5 L1008.8,296.1 L992.6,298.3Z" fill="#6aff2d"/>
<path d="M1072.5,331.0 L1088.1,328.0 L1072.1,314.4 L1056.4,317.4Z" fill="#1bff5b"/>
<path d="M1040.5,320.0 L1056.4,317.4 L1040.5,304.9 L1024.6,307.5Z" fill="#26ff24"/>
<path d="M1024.3,322.2 L1040.5,320.0 L1024.6,307.5 L1008.4,309.7Z" fill="#3fff27"/>
<path d="M1056.6,333.6 L1072.5,331.0 L1056.4,317.4 L1040.5,320.0Z" fill="#1eff4b"/>
<path d="M1040.5,335.8 L1056.6,333.6 L1040.5,320.0 L1024.3,322.2Z" fill="#21ff38"/>
</g>
<line x1="886.8" y1="204.7" x2="886.8" y2="216.0" stroke="#000" stroke-width="3" stroke-linecap="round" />
<circle cx="886.8" cy="199.7" r="6.1" fill="#c80a0a" stroke="#000" stroke-width="2"/>
<circle cx="758.8" cy="294.2" r="6.1" fill="#fcc8c8" stroke="#000" stroke-width="2"/>
<circle cx="1326.5" cy="201.2" r="6.1" fill="#c80a0a" stroke="#000" stroke-width="2"/>
<circle cx="748.6" cy="84.2" r="3.7" fill="#000"/>
<text x="720.1" y="79.4" font-size="16.3" fill="#111" font-family="Liberation Serif, serif" >7.0</text>
<circle cx="751.3" cy="141.5" r="3.7" fill="#000"/>
<text x="722.8" y="136.7" font-size="16.3" fill="#111" font-family="Liberation Serif, serif" >6.0</text>
<circle cx="754.0" cy="198.8" r="3.7" fill="#000"/>
<text x="725.5" y="194.0" font-size="16.3" fill="#111" font-family="Liberation Serif, serif" >5.0</text>
<circle cx="756.8" cy="256.2" r="3.7" fill="#000"/>
<text x="728.2" y="251.4" font-size="16.3" fill="#111" font-family="Liberation Serif, serif" >4.0</text>
<circle cx="759.5" cy="313.5" r="3.7" fill="#000"/>
<text x="731.0" y="308.7" font-size="16.3" fill="#111" font-family="Liberation Serif, serif" >3.0</text>
<circle cx="762.2" cy="370.8" r="3.7" fill="#000"/>
<text x="733.7" y="366.0" font-size="16.3" fill="#111" font-family="Liberation Serif, serif" >2.0</text>
<circle cx="766.8" cy="459.9" r="3.8" fill="#000"/>
<text x="734.2" y="473.9" font-size="16.5" fill="#111" font-family="Liberation Serif, serif" >114</text>
<circle cx="812.5" cy="481.9" r="3.8" fill="#000"/>
<text x="787.9" y="495.9" font-size="16.5" fill="#111" font-family="Liberation Serif, serif" >95</text>
<circle cx="858.1" cy="504.0" r="3.8" fill="#000"/>
<text x="833.4" y="518.0" font-size="16.5" fill="#111" font-family="Liberation Serif, serif" >76</text>
<circle cx="903.8" cy="526.0" r="3.8" fill="#000"/>
<text x="879.1" y="540.0" font-size="16.5" fill="#111" font-family="Liberation Serif, serif" >57</text>
<circle cx="949.5" cy="548.0" r="3.8" fill="#000"/>
<text x="924.9" y="562.0" font-size="16.5" fill="#111" font-family="Liberation Serif, serif" >38</text>
<circle cx="995.1" cy="570.1" r="3.8" fill="#000"/>
<text x="970.6" y="584.1" font-size="16.5" fill="#111" font-family="Liberation Serif, serif" >19</text>
<circle cx="1040.8" cy="592.1" r="3.8" fill="#000"/>
<text x="1024.5" y="606.1" font-size="16.5" fill="#111" font-family="Liberation Serif, serif" >0</text>
<circle cx="1040.8" cy="592.1" r="3.8" fill="#000"/>
<text x="1048.6" y="606.1" font-size="16.5" fill="#111" font-family="Liberation Serif, serif" >612</text>
<circle cx="1109.3" cy="559.2" r="3.8" fill="#000"/>
<text x="1117.2" y="573.2" font-size="16.5" fill="#111" font-family="Liberation Serif, serif" >649</text>
<circle cx="1177.8" cy="526.4" r="3.8" fill="#000"/>
<text x="1185.7" y="540.4" font-size="16.5" fill="#111" font-family="Liberation Serif, serif" >686</text>
<circle cx="1246.4" cy="493.6" r="3.8" fill="#000"/>
<text x="1253.8" y="507.6" font-size="16.5" fill="#111" font-family="Liberation Serif, serif" >723</text>
<circle cx="1314.9" cy="460.7" r="3.8" fill="#000"/>
<text x="1322.3" y="474.7" font-size="16.5" fill="#111" font-family="Liberation Serif, serif" >760</text>
<text x="728.2" y="581.6" font-size="21.9" fill="#111" font-family="Liberation Serif, serif" >B: ESP (kg/m3)</text>
<text x="1197.5" y="582.1" font-size="21.9" fill="#111" font-family="Liberation Serif, serif" >A: Cement (kg/m3)</text>
<text x="848.6" y="35.5" font-size="28.7" fill="#13226b" font-family="Liberation Sans, sans-serif" font-weight="bold" >(b)</text>
</g>
<g id="plot-c">
<rect x="1464.3" y="45.7" width="529.2" height="529.7" fill="#fff" stroke="#000" stroke-width="3.1"/>
<line x1="1450.8" y1="548.8" x2="1464.3" y2="548.8" stroke="#000" stroke-width="3"/>
<text x="1423.8" y="554.6" font-size="18" fill="#111" font-family="Liberation Serif, serif" >2.0</text>
<line x1="1450.8" y1="453.4" x2="1464.3" y2="453.4" stroke="#000" stroke-width="3"/>
<text x="1423.8" y="459.2" font-size="18" fill="#111" font-family="Liberation Serif, serif" >3.0</text>
<line x1="1450.8" y1="358.0" x2="1464.3" y2="358.0" stroke="#000" stroke-width="3"/>
<text x="1423.8" y="363.8" font-size="18" fill="#111" font-family="Liberation Serif, serif" >4.0</text>
<line x1="1450.8" y1="262.6" x2="1464.3" y2="262.6" stroke="#000" stroke-width="3"/>
<text x="1423.8" y="268.4" font-size="18" fill="#111" font-family="Liberation Serif, serif" >5.0</text>
<line x1="1450.8" y1="167.2" x2="1464.3" y2="167.2" stroke="#000" stroke-width="3"/>
<text x="1423.8" y="173.0" font-size="18" fill="#111" font-family="Liberation Serif, serif" >6.0</text>
<line x1="1450.8" y1="71.8" x2="1464.3" y2="71.8" stroke="#000" stroke-width="3"/>
<text x="1423.8" y="77.6" font-size="18" fill="#111" font-family="Liberation Serif, serif" >7.0</text>
<line x1="1490.1" y1="575.4" x2="1490.1" y2="588.4" stroke="#000" stroke-width="3"/>
<text x="1466.9" y="609.0" font-size="18" fill="#111" font-family="Liberation Serif, serif" >-1.000</text>
<line x1="1609.5" y1="575.4" x2="1609.5" y2="588.4" stroke="#000" stroke-width="3"/>
<text x="1586.3" y="609.0" font-size="18" fill="#111" font-family="Liberation Serif, serif" >-0.500</text>
<line x1="1729.0" y1="575.4" x2="1729.0" y2="588.4" stroke="#000" stroke-width="3"/>
<text x="1708.8" y="609.0" font-size="18" fill="#111" font-family="Liberation Serif, serif" >0.000</text>
<line x1="1848.5" y1="575.4" x2="1848.5" y2="588.4" stroke="#000" stroke-width="3"/>
<text x="1828.2" y="609.0" font-size="18" fill="#111" font-family="Liberation Serif, serif" >0.500</text>
<line x1="1967.9" y1="575.4" x2="1967.9" y2="588.4" stroke="#000" stroke-width="3"/>
<text x="1947.2" y="609.0" font-size="18" fill="#111" font-family="Liberation Serif, serif" >1.000</text>
<path d="M1490.1,336.3 L1502.0,329.5 L1514.0,323.1 L1525.9,317.0 L1537.9,311.2 L1549.8,305.9 L1561.8,300.9 L1573.7,296.2 L1585.7,292.0 L1597.6,288.1 L1609.5,284.5 L1621.5,281.4 L1633.4,278.6 L1645.4,276.1 L1657.3,274.0 L1669.3,272.3 L1681.2,271.0 L1693.2,270.0 L1705.1,269.4 L1717.1,269.2 L1729.0,269.3 L1740.9,269.8 L1752.9,270.6 L1764.8,271.8 L1776.8,273.4 L1788.7,275.4 L1800.7,277.7 L1812.6,280.4 L1824.6,283.4 L1836.5,286.8 L1848.5,290.6 L1860.4,294.7 L1872.3,299.2 L1884.3,304.1 L1896.2,309.3 L1908.2,315.0 L1920.1,320.9 L1932.1,327.3 L1944.0,334.0 L1956.0,341.0 L1967.9,348.5" fill="none" stroke="#1212e6" stroke-width="3.1"/>
<path d="M1490.1,262.4 L1502.0,264.4 L1514.0,266.3 L1525.9,268.0 L1537.9,269.5 L1549.8,270.8 L1561.8,272.0 L1573.7,272.9 L1585.7,273.7 L1597.6,274.3 L1609.5,274.8 L1621.5,275.0 L1633.4,275.1 L1645.4,275.0 L1657.3,274.7 L1669.3,274.3 L1681.2,273.6 L1693.2,272.8 L1705.1,271.8 L1717.1,270.6 L1729.0,269.3 L1740.9,267.8 L1752.9,266.0 L1764.8,264.2 L1776.8,262.1 L1788.7,259.8 L1800.7,257.4 L1812.6,254.8 L1824.6,252.0 L1836.5,249.1 L1848.5,245.9 L1860.4,242.6 L1872.3,239.1 L1884.3,235.4 L1896.2,231.6 L1908.2,227.6 L1920.1,223.3 L1932.1,219.0 L1944.0,214.4 L1956.0,209.6 L1967.9,204.7" fill="none" stroke="#0d8c0d" stroke-width="3.1"/>
<circle cx="1729.0" cy="269.3" r="6.4" fill="#000"/>
<text x="1489.5" y="257.8" font-size="17.8" fill="#0d8c0d" font-family="Liberation Serif, serif" >A</text>
<text x="1954.8" y="200.1" font-size="17.8" fill="#0d8c0d" font-family="Liberation Serif, serif" >A</text>
<text x="1490.2" y="332.1" font-size="17.8" fill="#1212e6" font-family="Liberation Serif, serif" >B</text>
<text x="1955.7" y="343.9" font-size="17.8" fill="#1212e6" font-family="Liberation Serif, serif" >B</text>
<text x="1676.6" y="37.4" font-size="20.7" fill="#111" font-family="Liberation Serif, serif" >Perturbation</text>
<text x="1510.6" y="649.6" font-size="23.2" fill="#111" font-family="Liberation Serif, serif" >Deviation from Reference Point (Coded Units)</text>
<text x="1386.8" y="419.6" font-size="23.4" fill="#111" font-family="Liberation Serif, serif" transform="rotate(-90 1386.8 419.6)" >Flexural strength (MPa)</text>
<text x="1413.4" y="22.7" font-size="28.7" fill="#13226b" font-family="Liberation Sans, sans-serif" font-weight="bold" >(c)</text>
</g>
</svg></body></html>
